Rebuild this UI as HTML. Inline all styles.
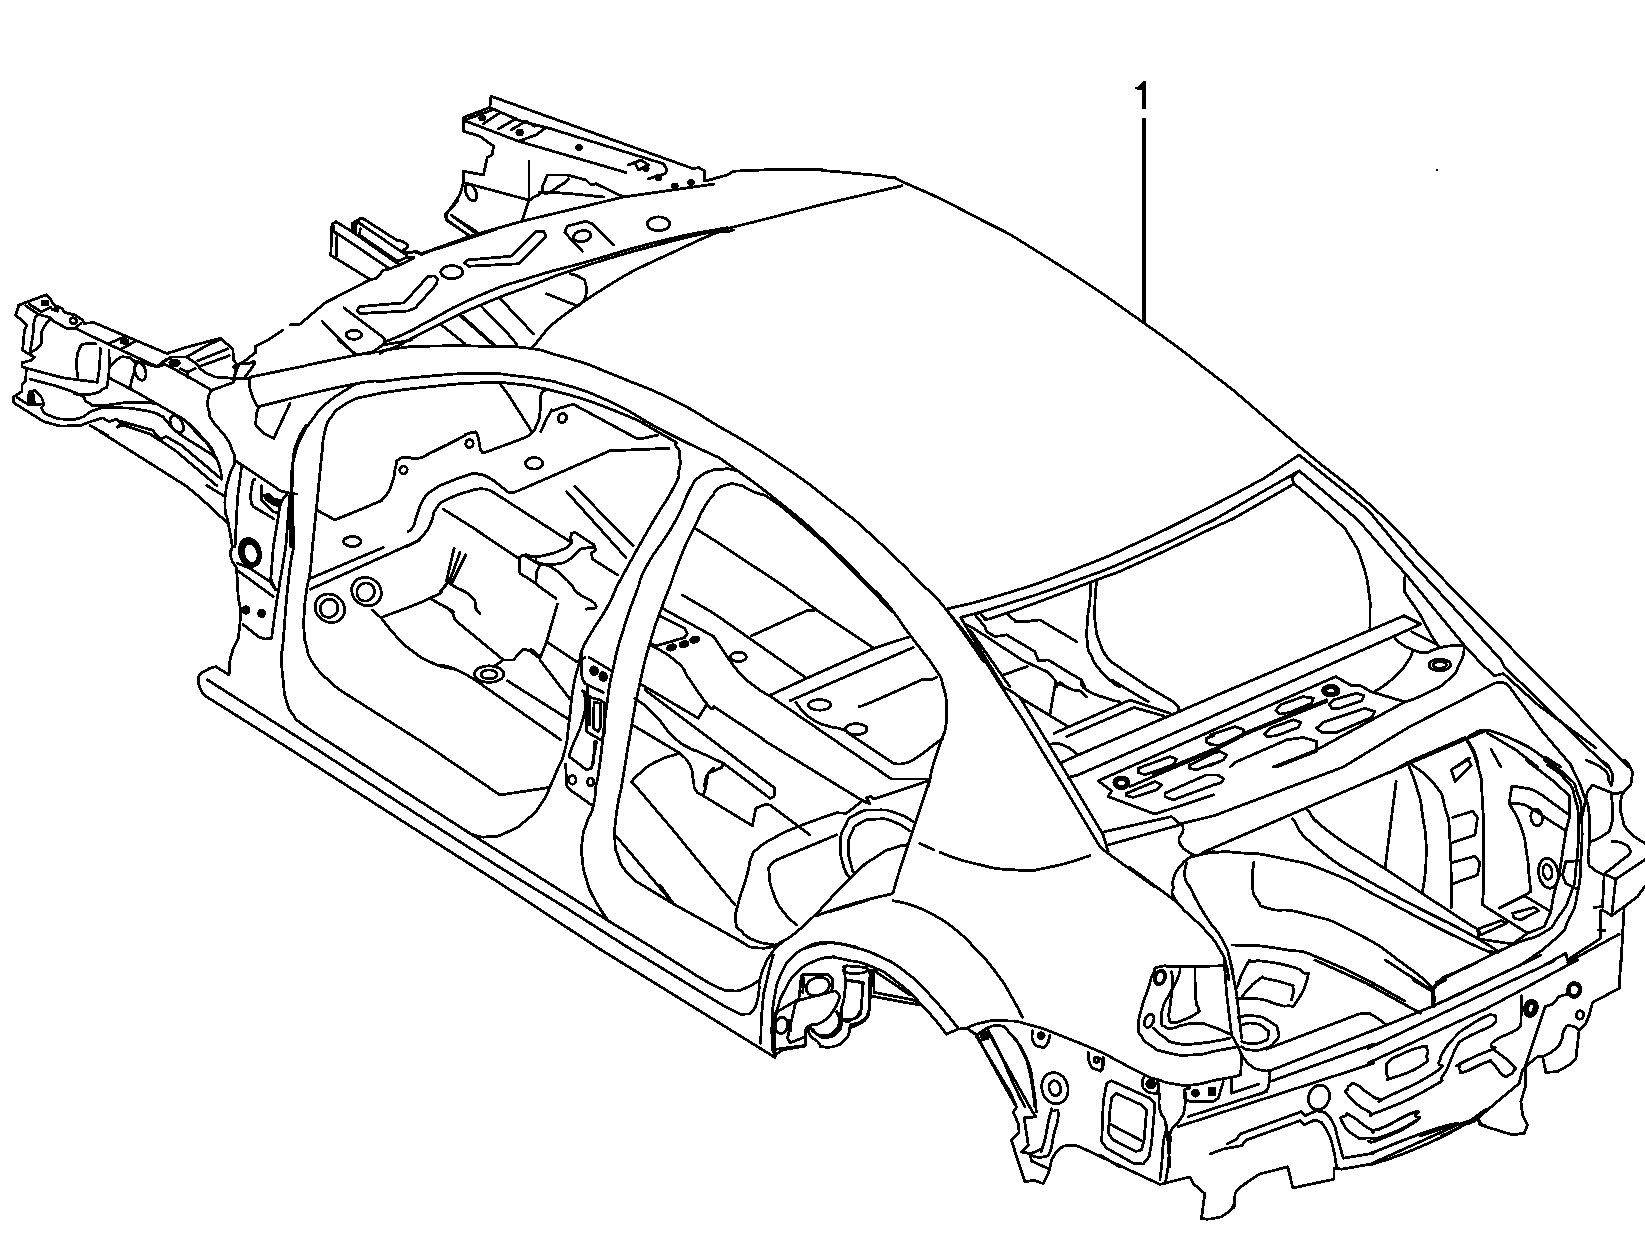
<!DOCTYPE html>
<html><head><meta charset="utf-8"><title>Body shell</title>
<style>html,body{margin:0;padding:0;background:#fff}body{width:1645px;height:1244px;overflow:hidden;font-family:"Liberation Sans",sans-serif}svg{display:block}</style></head><body>
<svg width="1645" height="1244" viewBox="0 0 1645 1244" shape-rendering="crispEdges">
<rect width="1645" height="1244" fill="#fff"/>
<g fill="none" stroke="#000" stroke-width="2.8" stroke-linejoin="round" stroke-linecap="round">
<path d="M18.8 305.1 L15.7 315.1 L27.0 325.1 L24.5 330.2 L22.6 350.2 L28.8 354.0 L34.5 357.1 L31.3 360.3 L21.9 362.8 L21.9 366.5 L26.3 368.4 L25.7 380.3 L21.9 385.3 L21.9 391.6 L13.8 396.6 L13.8 402.9 L43.9 421.7 L60.2 426.1 L80.3 425.5 L90.3 421.7 L102.8 417.9 L109.1 421.7 L116.6 419.2 L120.4 422.9"/>
<path d="M18.8 305.1 L46.4 294.8 L50.2 298.8 L53.9 305.1 L61.4 308.2 L65.2 312.6 L75.2 315.1 L82.8 320.1 L84.0 323.3 L94.0 322.6 L168.0 354.0"/>
<path d="M25.7 305.7 L38.9 314.5 L50.2 317.6 L53.9 321.4 L67.7 328.9 L75.2 328.3 L80.9 323.3"/>
<ellipse cx="73.4" cy="320.8" rx="3.5" ry="3.0" transform="rotate(20.0 73.4 320.8)"/>
<path d="M28.8 303.8 L41.4 312.0 L50.8 307.0"/>
<path d="M42.0 301.3 L47.6 301.3 L47.6 304.5 L42.0 304.5Z" fill="#000"/>
<path d="M52.0 309.5 L57.1 308.2 L57.7 311.3Z" fill="#000"/>
<path d="M38.9 314.5 C37.4 316.4 36.5 313.2 34.5 320.1 C32.5 327.0 34.3 324.7 32.9 335.2 C31.4 345.6 31.0 346.0 30.1 351.5"/>
<path d="M50.2 318.9 C47.9 322.0 46.2 322.4 43.3 328.3 C40.3 334.1 42.3 330.8 41.4 336.4 C40.4 342.1 43.7 340.0 40.4 345.2 C37.0 350.4 34.4 349.8 31.3 352.1"/>
<path d="M75.2 328.3 L107.8 343.9 L156.7 366.5 L168.0 359.0"/>
<path d="M107.8 343.9 L125.4 336.4"/>
<path d="M122.3 348.3 L135.4 341.4"/>
<path d="M122.3 338.9 L127.9 340.2 L126.6 343.9 L121.0 342.7Z" fill="#000"/>
<path d="M95.9 343.9 C92.4 343.9 90.7 342.5 85.3 343.9 C79.8 345.4 82.5 342.5 79.6 348.3 C76.8 354.2 77.4 352.1 76.7 361.5 C76.1 370.9 77.4 371.5 77.7 376.6"/>
<path d="M100.3 348.3 C100.0 354.8 100.4 356.5 99.3 367.8 C98.3 379.1 97.9 377.4 97.2 382.2"/>
<path d="M25.1 367.8 L62.7 377.8 L96.6 382.2"/>
<path d="M109.1 350.2 C108.8 360.3 110.2 367.4 108.1 380.3 C106.0 393.3 107.5 384.7 102.8 389.1 C98.1 393.5 101.1 391.6 94.0 393.5 C86.9 395.4 88.2 394.7 81.5 394.7 C74.8 394.7 76.5 393.9 74.0 393.5"/>
<path d="M30.1 379.1 C44.7 383.4 54.8 384.5 74.0 392.2 C93.2 400.0 79.0 397.9 87.8 402.3 C96.6 406.6 85.7 405.4 100.3 405.4 C114.9 405.4 113.3 402.9 131.7 402.3 C150.1 401.6 147.5 403.1 155.5 403.5"/>
<path d="M110.3 366.5 C112.9 364.0 112.9 362.1 117.9 359.0 C122.9 355.9 120.4 356.7 125.4 357.1 C130.4 357.5 129.8 356.7 132.9 360.3 C136.1 363.8 135.2 361.1 134.8 367.8 C134.4 374.5 133.1 373.6 131.7 380.3 C130.2 387.0 130.8 385.3 130.4 387.8"/>
<ellipse cx="140.4" cy="371.5" rx="5.3" ry="9.0" transform="rotate(-15.0 140.4 371.5)"/>
<path d="M109.1 377.8 L135.4 391.6 L176.7 415.3"/>
<path d="M132.9 360.3 L156.7 366.8"/>
<path d="M28.8 404.1 C28.8 401.2 27.3 399.7 28.6 395.4 C29.8 391.0 29.2 391.4 32.6 391.0 C36.0 390.6 35.3 390.1 38.9 394.1 C42.4 398.1 42.0 397.5 43.3 402.9 C44.5 408.3 39.5 405.8 42.6 410.4 C45.8 415.0 45.1 413.8 52.7 416.7 C60.2 419.6 56.0 418.8 65.2 419.2 C74.4 419.6 70.6 420.9 80.3 417.9 C89.9 415.0 83.2 413.8 94.0 410.4 C104.9 407.1 96.1 407.9 112.9 407.9 C129.6 407.9 127.5 407.5 144.2 410.4 C160.9 413.3 156.7 414.6 163.0 416.7"/>
<path d="M28.6 394.7 L32.9 392.9 L34.5 404.1 L29.1 404.8Z" fill="#000"/>
<path d="M17.6 397.9 L28.8 404.8 L41.4 404.1"/>
<ellipse cx="176.8" cy="424.2" rx="5.6" ry="9.4" transform="rotate(-30.0 176.8 424.2)"/>
<path d="M90.3 425.5 L107.8 435.5"/>
<path d="M117.9 426.1 L125.4 424.2"/>
<path d="M491.0 96.2 L693.5 168.8 L698.5 167.5 L704.8 171.2 L704.8 181.2 L727.2 175.0 L733.5 171.2 L773.5 169.5 L822.0 169.2"/>
<path d="M491.0 96.2 L489.8 107.5 L463.5 117.5 L463.5 131.2 L479.8 136.2 L493.5 146.2 L492.2 155.0 L487.2 157.5 L483.5 175.0 L463.5 171.2 L463.5 182.5 L459.8 195.0 L446.0 215.0 L447.2 220.0 L469.8 236.2"/>
<path d="M489.8 107.5 L521.0 121.2 L546.0 127.5 L551.0 128.8 L663.5 163.8 L667.2 170.0 L664.8 173.8 L648.5 178.8"/>
<path d="M466.0 121.2 L518.5 141.2 L536.0 135.0 L546.0 127.5"/>
<path d="M518.5 141.2 L626.0 172.5"/>
<path d="M464.8 120.0 L492.2 110.0"/>
<path d="M483.5 123.8 L498.5 113.8"/>
<path d="M498.5 128.8 L516.0 118.8"/>
<path d="M511.0 130.0 L526.0 121.2 L534.8 126.2"/>
<ellipse cx="482.2" cy="118.0" rx="2.5" ry="2.0" transform="rotate(0.0 482.2 118.0)" fill="#000"/>
<ellipse cx="519.8" cy="132.5" rx="3.0" ry="2.5" transform="rotate(0.0 519.8 132.5)" fill="#000"/>
<ellipse cx="579.0" cy="147.5" rx="2.5" ry="2.2" transform="rotate(0.0 579.0 147.5)" fill="#000"/>
<path d="M628.5 165.0 L641.0 160.0 L648.5 165.0 L638.5 170.0 L634.8 162.5"/>
<ellipse cx="646.0" cy="168.8" rx="2.2" ry="2.0" transform="rotate(0.0 646.0 168.8)" fill="#000"/>
<ellipse cx="658.5" cy="177.5" rx="2.5" ry="2.0" transform="rotate(0.0 658.5 177.5)" fill="#000"/>
<ellipse cx="674.8" cy="186.2" rx="2.5" ry="2.2" transform="rotate(0.0 674.8 186.2)" fill="#000"/>
<ellipse cx="691.0" cy="182.5" rx="2.5" ry="2.2" transform="rotate(0.0 691.0 182.5)" fill="#000"/>
<path d="M529.0 161.2 L529.0 200.0 L522.2 220.0"/>
<path d="M463.5 182.5 L528.5 200.0"/>
<ellipse cx="471.0" cy="192.5" rx="5.0" ry="8.8" transform="rotate(-25.0 471.0 192.5)"/>
<path d="M451.0 215.0 L474.8 232.5"/>
<path d="M547.2 175.0 L567.2 175.0 L586.0 180.0 L591.0 185.0 L596.0 183.8 L623.5 197.0"/>
<path d="M547.2 175.0 C546.0 180.8 538.9 189.2 543.5 192.5 C548.1 195.8 552.7 189.6 561.0 185.0 C569.3 180.4 566.0 180.8 568.5 178.8"/>
<path d="M528.5 201.2 C531.8 199.2 531.0 197.9 538.5 195.0 C546.0 192.1 529.3 191.8 551.0 192.5 C572.7 193.2 586.0 195.5 603.5 197.0"/>
<path d="M411.0 252.5 L416.0 251.2 L421.0 253.8 L473.5 235.0 L522.2 221.2 L623.5 197.0 L713.5 184.2"/>
<path d="M467.2 260.0 L511.0 256.2 L536.0 231.2 L543.5 231.2 L546.0 236.2 L518.5 263.8 L468.5 266.2 L464.8 263.0Z"/>
<path d="M582.2 251.2 L564.8 232.5 L567.2 226.2 L586.0 221.2 L592.2 223.8 L613.5 245.0"/>
<ellipse cx="582.2" cy="236.2" rx="8.8" ry="5.5" transform="rotate(-10.0 582.2 236.2)"/>
<ellipse cx="658.5" cy="223.8" rx="11.2" ry="7.0" transform="rotate(0.0 658.5 223.8)"/>
<path d="M733.5 230.0 C717.7 235.4 735.2 222.9 686.0 246.2 C636.8 269.6 637.8 265.9 586.0 300.0 C534.2 334.1 549.0 332.3 530.5 348.5"/>
<path d="M822.0 170.5 C834.5 171.6 837.0 171.4 859.5 173.8 C882.0 176.1 873.7 174.2 889.5 177.5 C905.3 180.8 879.5 171.2 907.0 183.8 C934.5 196.2 925.3 190.4 972.0 215.0 C1018.7 239.6 989.9 221.7 1047.0 257.5 C1104.1 293.3 1089.9 285.0 1143.2 322.5 C1196.6 360.0 1185.8 354.2 1207.0 370.0"/>
<path d="M822.0 204.5 L902.0 185.8"/>
<path d="M1233.0 390.0 C1255.5 409.2 1253.8 408.3 1300.5 447.5 C1347.2 486.7 1331.8 470.0 1373.0 507.5 C1414.2 545.0 1407.2 542.5 1424.2 560.0"/>
<path d="M1233.0 495.0 L1265.5 477.5 L1299.2 455.0 L1368.0 510.0 L1409.2 560.0"/>
<path d="M1233.0 508.8 L1265.5 490.0 L1299.2 470.8 L1358.0 520.0 L1392.8 560.0"/>
<path d="M1233.0 518.8 L1294.2 483.8 L1291.8 477.5 L1299.2 470.8"/>
<path d="M1294.2 483.8 C1307.2 495.0 1314.2 499.6 1333.0 517.5 C1351.8 535.4 1340.5 521.7 1350.5 537.5 C1360.5 553.3 1356.8 545.8 1363.0 565.0 C1369.2 584.2 1366.9 580.0 1369.2 595.0 C1371.6 610.0 1369.8 605.0 1370.0 610.0"/>
<path d="M167.7 353.2 L187.8 346.9 L220.4 338.2 L224.1 341.3 L232.9 349.4 L233.5 360.1 L236.7 363.9 L234.8 375.1 L232.9 382.7"/>
<path d="M186.5 357.0 L207.8 345.0 L220.4 339.4"/>
<path d="M170.2 357.0 L180.3 357.0 L186.5 357.0 L196.6 363.9 L200.3 368.9 L206.6 373.3 L215.4 377.0 L232.9 378.3 L249.2 378.3"/>
<path d="M156.4 367.0 L165.2 360.1 L170.2 358.2"/>
<path d="M156.4 367.0 L165.2 364.5 L187.8 376.4 L211.6 390.2"/>
<ellipse cx="174.6" cy="362.9" rx="4.8" ry="2.8" transform="rotate(0.0 174.6 362.9)"/>
<ellipse cx="174.6" cy="362.9" rx="2.8" ry="1.5" transform="rotate(0.0 174.6 362.9)" fill="#000"/>
<path d="M180.3 368.9 L187.8 372.0 L195.3 368.2"/>
<path d="M187.8 372.0 L187.8 377.6"/>
<path d="M197.8 360.7 L227.9 348.8"/>
<path d="M201.6 365.7 L229.2 355.7"/>
<path d="M234.8 375.1 L239.2 363.9 L249.8 363.2 L254.2 361.3 L254.2 364.5 L244.2 378.3"/>
<path d="M233.5 367.0 L235.4 365.1 L237.3 367.0 L235.4 369.1Z"/>
<path d="M283.1 330.0 L266.8 340.7 L255.5 346.3 L255.5 352.6 L244.2 361.3 L239.2 363.9"/>
<path d="M306.0 365.7 L250.5 377.0"/>
<path d="M250.5 377.0 C250.3 380.6 248.2 379.1 249.8 387.7 C251.5 396.2 252.4 396.5 255.5 402.7 C258.6 409.0 258.0 405.2 259.2 406.5"/>
<path d="M259.2 406.5 L306.0 394.6"/>
<path d="M259.2 406.5 C258.2 410.3 256.1 410.3 256.1 417.8 C256.1 425.3 253.4 422.2 259.2 429.1 C265.1 436.0 268.9 435.3 273.7 438.5"/>
<path d="M273.7 438.5 L290.0 403.4"/>
<path d="M211.6 390.2 L232.9 382.7 L235.4 378.9"/>
<path d="M211.6 390.2 C210.3 393.5 208.7 393.1 207.8 400.2 C207.0 407.3 207.4 404.4 209.1 411.5 C210.8 418.6 207.4 413.2 212.9 421.5 C218.3 429.9 219.1 427.4 225.4 436.6 C231.7 445.8 228.5 441.2 231.7 449.1 C234.8 457.1 235.2 452.5 234.8 460.4 C234.4 468.3 233.1 464.6 230.4 472.9 C227.7 481.3 227.9 481.3 226.6 485.5"/>
<path d="M234.8 460.4 L273.0 485.5"/>
<path d="M241.7 465.4 L239.2 485.5"/>
<path d="M306.0 425.3 C303.0 431.1 301.2 430.7 296.9 442.9 C292.6 455.0 294.6 447.5 293.1 461.7 C291.6 475.9 292.7 477.5 292.5 485.5"/>
<path d="M176.7 415.3 C180.4 417.8 179.9 416.1 187.8 422.8 C195.6 429.5 192.4 426.1 200.3 435.3 C208.3 444.5 205.3 440.3 211.6 450.4 C217.9 460.4 215.8 455.8 219.1 465.4 C222.5 475.0 220.8 474.6 221.6 479.2"/>
<path d="M162.9 416.6 C165.4 419.5 164.0 419.1 170.2 425.3 C176.4 431.5 173.1 429.1 181.5 435.3 C189.9 441.6 184.8 437.4 195.3 444.1 C205.7 450.8 206.2 450.8 212.9 455.4 C219.5 460.0 214.5 457.1 215.4 457.9"/>
<path d="M187.8 423.4 C192.0 427.8 192.8 428.9 200.3 436.6 C207.8 444.3 205.7 440.3 210.3 446.6 C214.9 452.9 212.9 452.5 214.1 455.4"/>
<path d="M121.3 421.5 L152.7 430.3 L157.7 436.6 L160.2 439.1 L166.5 436.6 L181.5 445.4 L221.6 479.2"/>
<path d="M117.6 427.2 L122.6 425.0 L150.2 434.1 L175.2 450.4 L216.6 485.5"/>
<path d="M100.0 431.6 L185.3 485.5"/>
<path d="M387.5 341.0 C395.3 337.6 396.8 337.7 411.0 330.8 C425.2 323.9 407.1 332.2 430.2 320.3 C453.3 308.4 446.9 309.4 480.3 295.2 C513.7 281.0 495.3 288.7 530.5 277.6 C565.7 266.5 542.5 274.2 586.0 262.0 C629.5 249.8 616.3 252.0 661.0 241.0 C705.7 230.0 695.8 233.7 720.0 229.0 C744.2 224.3 699.5 235.2 733.5 227.0 C767.5 218.8 792.5 212.0 822.0 204.5"/>
<path d="M380.0 351.6 C385.4 349.9 386.0 350.9 396.3 346.6 C406.6 342.3 396.4 346.3 411.0 338.8 C425.6 331.3 417.1 335.2 440.2 324.0 C463.3 312.8 450.2 317.9 480.3 305.2 C510.4 292.5 495.3 299.0 530.5 285.8 C565.7 272.6 542.5 279.6 586.0 265.7 C629.5 251.8 616.3 255.9 661.0 244.0 C705.7 232.1 700.3 234.7 720.0 230.0"/>
<path d="M380.0 353.5 C385.4 351.8 377.5 351.0 396.3 348.5 C415.1 346.0 404.2 346.6 436.4 346.0 C468.6 345.3 461.5 345.7 492.9 346.6 C524.2 347.4 509.6 345.7 530.5 348.5 C551.4 351.2 537.0 349.7 555.5 354.7 C574.1 359.7 575.9 360.6 586.0 363.5"/>
<path d="M440.2 324.0 L465.3 344.1"/>
<path d="M459.6 315.2 L492.9 344.7"/>
<path d="M462.8 316.5 L494.1 344.7"/>
<path d="M480.3 305.2 C490.3 315.7 498.5 322.8 510.4 336.6 C522.3 350.3 514.2 343.2 516.1 346.6"/>
<path d="M500.4 298.9 L533.6 334.0"/>
<path d="M570.6 273.9 C573.9 275.1 575.6 274.3 580.6 277.6 C585.6 281.0 584.0 277.6 585.6 283.9 C587.3 290.2 587.3 289.7 585.6 296.4 C584.0 303.1 584.0 300.4 580.6 303.9 C577.3 307.5 577.3 306.0 575.6 307.1"/>
<path d="M546.8 293.9 L575.6 305.2"/>
<path d="M380.0 381.7 C396.7 379.8 396.7 378.8 430.2 376.1 C463.6 373.3 451.1 373.5 480.3 373.5 C509.6 373.5 492.9 373.3 517.9 376.1 C543.0 378.8 543.0 379.8 555.5 381.7"/>
<path d="M380.0 393.0 C396.7 390.9 396.7 390.1 430.2 386.7 C463.6 383.4 451.1 383.8 480.3 382.9 C509.6 382.1 497.0 382.3 517.9 384.2 C538.8 386.1 534.6 387.1 543.0 388.6"/>
<path d="M500.4 384.2 L509.2 396.0"/>
<path d="M546.8 389.2 L541.8 392.4 L540.5 396.0"/>
<path d="M335.8 221.6 L332.0 224.5 L330.8 255.2 L370.3 279.6 L376.5 278.4 L383.4 270.2 L389.1 269.0 L399.1 265.2 L413.5 258.3"/>
<path d="M335.8 221.6 L352.7 232.0"/>
<path d="M333.9 231.3 L389.1 268.3"/>
<path d="M337.0 234.5 L336.4 255.8"/>
<path d="M333.9 226.3 L333.3 231.3 L337.0 234.5"/>
<path d="M352.7 232.0 L352.7 223.2 L360.2 218.6 L363.4 218.8 L396.6 240.1 L402.9 241.4 L407.9 245.1 L407.2 247.6 L402.9 250.2 L407.2 252.7 L414.1 251.7 L421.7 254.5 L429.2 251.4 L471.8 237.6 L496.0 229.5"/>
<path d="M355.8 232.6 L355.2 225.1 L358.7 222.6 L406.6 255.2"/>
<path d="M352.7 232.0 L399.1 264.6"/>
<path d="M360.2 228.8 L359.6 235.1 L397.8 261.4 L406.6 257.1 L414.1 257.7"/>
<path d="M370.3 279.6 L325.1 302.8 L300.0 324.1 L290.0 324.8"/>
<path d="M458.0 200.0 L454.3 205.0 L445.5 213.8 L446.1 220.1 L470.6 236.4"/>
<path d="M451.1 215.0 L476.8 232.0"/>
<path d="M359.6 306.6 L404.1 302.8 L427.9 276.5 L434.2 275.9 L437.3 279.0 L436.7 284.0 L415.4 307.8 L407.9 311.0 L360.2 313.5 L357.1 310.3Z"/>
<ellipse cx="451.8" cy="272.1" rx="11.0" ry="6.5" transform="rotate(0.0 451.8 272.1)"/>
<path d="M343.9 307.8 L384.0 337.9 L385.3 342.9"/>
<path d="M322.0 321.0 L355.2 354.9 L371.5 353.0 L385.3 342.9"/>
<ellipse cx="353.9" cy="334.8" rx="7.8" ry="4.5" transform="rotate(0.0 353.9 334.8)"/>
<path d="M305.9 365.3 C322.8 361.9 334.7 359.3 356.6 355.0 C378.4 350.7 363.7 353.5 371.6 352.5 C379.4 351.5 377.2 352.2 380.0 352.0"/>
<path d="M338.2 340.0 L356.6 355.0"/>
<path d="M371.6 352.5 L383.2 345.0 L411.5 340.0"/>
<path d="M305.9 394.6 C322.8 391.0 331.9 388.1 356.6 383.6 C381.3 379.1 372.2 382.0 380.0 381.1"/>
<path d="M356.6 398.3 L380.0 393.3"/>
<path d="M356.6 383.6 C354.3 384.9 359.9 380.9 349.9 387.5 C339.9 394.0 338.8 393.0 326.6 403.3 C314.4 413.6 321.6 407.2 313.3 418.3 C304.9 429.4 307.7 424.4 301.6 436.6 C295.5 448.8 298.3 442.7 294.9 454.9 C291.6 467.1 292.8 460.5 291.6 473.2 C290.4 486.0 291.4 486.6 291.3 493.2"/>
<path d="M289.9 494.1 L292.4 494.1 L293.6 547.0 L290.8 547.0Z" fill="#000"/>
<path d="M356.6 398.3 C351.6 401.1 349.9 400.5 341.6 406.6 C333.2 412.7 337.1 408.3 331.6 416.6 C326.0 424.9 328.2 418.3 324.9 431.6 C321.6 444.9 323.8 437.2 321.6 456.6 C319.4 476.0 320.5 467.7 318.3 489.9 C316.0 512.1 316.9 504.2 314.9 523.2 C313.0 542.3 313.3 539.1 312.4 547.0"/>
<path d="M316.6 509.9 L334.9 519.9"/>
<path d="M334.9 519.9 C347.7 514.6 357.1 511.3 373.2 504.1 C389.3 496.8 377.1 504.6 383.2 498.2 C389.3 491.8 387.4 495.5 391.5 484.9 C395.7 474.4 393.5 474.9 395.7 466.6 C397.9 458.3 394.6 463.0 398.2 459.9 C401.8 456.9 399.9 458.0 406.5 457.4 C413.2 456.9 409.3 460.2 418.2 458.3 C427.1 456.3 419.3 458.3 433.2 451.6 C447.1 444.9 448.7 444.1 459.8 438.3 C470.9 432.4 461.9 436.0 466.5 434.1 C471.1 432.2 471.3 433.0 473.7 432.4"/>
<ellipse cx="403.5" cy="469.9" rx="3.7" ry="4.0" transform="rotate(20.0 403.5 469.9)"/>
<ellipse cx="469.5" cy="443.6" rx="3.7" ry="4.0" transform="rotate(20.0 469.5 443.6)"/>
<path d="M473.7 473.2 C465.7 476.0 463.3 476.0 449.8 481.6 C436.3 487.1 442.1 483.8 433.2 489.9 C424.3 496.0 428.7 491.0 423.2 499.9 C417.6 508.8 419.9 507.7 416.5 516.5 C413.2 525.4 416.0 521.5 413.2 526.5 C410.4 531.5 409.9 529.9 408.2 531.5"/>
<path d="M473.7 489.9 C465.7 492.7 462.2 492.1 449.8 498.2 C437.5 504.3 442.6 500.4 436.5 508.2 C430.4 516.0 435.4 513.2 431.5 521.5 C427.6 529.9 430.4 526.3 424.9 533.2 C419.3 540.1 421.5 537.8 414.9 542.4 C408.2 547.0 408.2 545.5 404.9 547.0"/>
<path d="M443.2 509.1 L473.7 528.2"/>
<ellipse cx="352.4" cy="541.5" rx="8.7" ry="5.0" transform="rotate(0.0 352.4 541.5)"/>
<path d="M273.0 485.4 L279.9 490.7 L289.9 493.2 L296.6 494.1"/>
<path d="M255.0 479.1 C254.1 480.5 253.9 476.9 252.5 483.2 C251.1 489.6 250.5 490.5 250.8 498.2 C251.1 506.0 252.5 503.8 253.3 506.6"/>
<path d="M253.3 506.6 L274.1 519.0"/>
<path d="M261.6 485.7 L261.6 499.9 L273.3 511.6 L278.3 513.2"/>
<path d="M264.1 495.7 L268.3 494.1 L273.3 499.1 L281.6 500.7 L279.9 506.6 L273.3 504.1 L266.6 499.9Z" fill="#000"/>
<path d="M281.6 500.7 L286.6 494.9"/>
<path d="M279.9 506.6 L273.3 547.0"/>
<path d="M289.9 494.9 L285.8 547.0"/>
<path d="M226.6 485.4 C226.1 492.5 224.4 494.0 225.0 506.6 C225.5 519.2 225.8 509.7 228.3 523.2 C230.8 536.7 231.1 539.1 232.5 547.0"/>
<path d="M239.1 485.4 L237.5 498.2 L235.0 547.0"/>
<path d="M206.7 485.4 L225.0 496.6"/>
<path d="M185.3 485.4 L200.0 497.4 L225.0 520.7 L227.5 523.2"/>
<path d="M232.5 547.0 C231.9 550.2 229.4 549.5 230.8 556.7 C232.2 563.8 234.7 564.4 236.6 568.3"/>
<path d="M236.6 568.3 L238.3 598.3 L240.8 610.0 L240.0 623.3 L238.3 638.3 L233.3 648.3 L230.0 659.9 L229.1 674.9 L215.8 666.6 L210.0 668.2 L200.8 673.2"/>
<path d="M200.8 673.2 C200.0 675.5 198.3 674.4 198.3 679.9 C198.3 685.5 198.6 684.6 200.8 689.9 C203.0 695.2 203.6 693.8 205.0 695.7"/>
<path d="M205.0 695.7 L286.6 747.0"/>
<ellipse cx="250.0" cy="552.5" rx="10.3" ry="14.2" transform="rotate(-15.0 250.0 552.5)"/>
<ellipse cx="250.8" cy="553.3" rx="7.0" ry="10.3" transform="rotate(-15.0 250.8 553.3)"/>
<ellipse cx="250.5" cy="553.0" rx="8.7" ry="12.3" transform="rotate(-15.0 250.5 553.0)"/>
<path d="M237.5 563.3 L250.0 568.3 L269.9 581.6 L275.8 590.0"/>
<path d="M239.1 571.6 L273.3 596.6"/>
<path d="M273.3 547.0 L270.8 579.1 L275.8 590.0 L278.3 590.0"/>
<path d="M285.8 547.0 L279.9 581.6 L278.3 591.6 L274.9 613.3 L271.6 638.3 L264.9 639.1 L258.3 636.6 L243.3 624.6"/>
<path d="M293.6 547.0 C291.8 558.5 291.7 550.7 288.3 581.6 C284.8 612.6 285.5 615.0 283.3 639.9 C281.0 664.9 281.6 642.7 281.6 656.6 C281.6 670.5 281.6 666.6 283.3 681.6 C284.9 696.6 283.3 690.5 286.6 701.6 C289.9 712.7 287.7 707.1 293.3 714.9 C298.8 722.7 288.8 714.2 303.3 724.9 C317.7 735.6 325.5 739.6 336.6 747.0"/>
<path d="M312.4 547.0 C311.6 555.8 311.9 559.0 309.9 573.3 C308.0 587.6 308.5 576.1 306.6 590.0 C304.6 603.8 304.9 601.1 304.1 615.0 C303.3 628.8 303.3 621.1 304.1 631.6 C304.9 642.2 303.5 636.0 306.6 646.6 C309.6 657.1 305.5 651.6 313.2 663.3 C321.0 674.9 319.4 671.6 329.9 681.6 C340.4 691.6 339.9 689.3 344.9 693.2"/>
<path d="M344.9 693.2 L429.8 747.0"/>
<ellipse cx="245.8" cy="610.0" rx="3.3" ry="3.3" transform="rotate(0.0 245.8 610.0)" fill="#000"/>
<ellipse cx="261.6" cy="613.3" rx="3.0" ry="3.3" transform="rotate(0.0 261.6 613.3)" fill="#000"/>
<path d="M207.5 679.9 L313.2 747.0"/>
<path d="M310.7 578.3 L383.2 547.5"/>
<path d="M310.7 589.1 L419.8 540.0"/>
<ellipse cx="329.9" cy="608.3" rx="15.3" ry="13.7" transform="rotate(35.0 329.9 608.3)"/>
<ellipse cx="329.1" cy="608.3" rx="8.7" ry="9.2" transform="rotate(35.0 329.1 608.3)"/>
<ellipse cx="366.5" cy="591.6" rx="15.3" ry="13.7" transform="rotate(35.0 366.5 591.6)"/>
<ellipse cx="365.7" cy="592.0" rx="8.7" ry="9.2" transform="rotate(35.0 365.7 592.0)"/>
<path d="M372.4 610.0 L381.5 618.3"/>
<path d="M381.5 618.3 C386.5 624.4 386.0 625.5 396.5 636.6 C407.1 647.7 401.0 642.7 413.2 651.6 C425.4 660.5 419.7 657.4 433.2 663.3 C446.7 669.1 446.8 667.1 453.7 669.1"/>
<path d="M381.5 617.4 C397.6 611.1 409.3 608.0 429.8 598.3 C450.4 588.6 436.5 595.0 443.2 588.3 C449.8 581.6 447.6 581.6 449.8 578.3"/>
<path d="M429.8 598.3 L453.7 611.6"/>
<path d="M626.5 380.0 C642.1 386.7 644.1 385.6 673.2 400.0 C702.2 414.4 700.2 415.5 713.7 423.3"/>
<path d="M555.4 382.0 C572.5 388.0 570.6 383.7 606.6 400.0 C642.5 416.3 627.5 412.4 663.2 430.8 C698.9 449.2 696.8 447.1 713.7 455.3"/>
<path d="M542.9 388.0 C564.1 394.5 566.5 391.8 606.6 407.5 C646.6 423.1 639.9 421.9 663.2 435.0 C686.5 448.0 671.0 438.8 676.5 446.6 C682.1 454.4 679.0 450.5 679.8 458.3 C680.7 466.1 681.2 459.9 679.0 469.9 C676.8 479.9 683.4 468.3 673.2 488.3 C662.9 508.2 667.1 497.0 648.2 529.9 C629.3 562.8 627.1 568.0 616.5 587.0"/>
<path d="M509.1 396.0 L530.8 430.0 L531.6 433.3"/>
<path d="M540.4 396.0 C540.3 401.8 541.2 403.7 539.9 413.3 C538.7 423.0 539.4 418.3 536.6 425.0 C533.8 431.6 536.0 428.9 531.6 433.3 C527.2 437.7 526.1 436.6 523.3 438.3"/>
<path d="M523.3 438.3 L485.0 452.5"/>
<path d="M485.0 452.5 C483.6 451.6 483.3 455.8 480.8 450.0 C478.3 444.1 479.9 440.8 477.5 435.0 C475.1 429.1 474.9 433.3 473.6 432.5"/>
<ellipse cx="562.4" cy="418.0" rx="4.0" ry="4.7" transform="rotate(30.0 562.4 418.0)"/>
<path d="M540.8 431.6 C543.8 425.5 545.2 420.5 549.9 413.3 C554.6 406.1 547.2 413.0 554.9 410.0 C562.7 406.9 567.1 406.1 573.2 404.2"/>
<path d="M573.2 404.2 L636.5 438.3 L643.2 438.3 L658.2 435.0"/>
<ellipse cx="534.1" cy="463.3" rx="8.7" ry="5.8" transform="rotate(0.0 534.1 463.3)"/>
<path d="M473.6 474.1 C475.2 474.1 472.9 472.7 478.3 474.1 C483.7 475.5 481.6 473.5 490.0 478.3 C498.3 483.0 496.6 483.5 503.3 488.3 C510.0 493.0 505.0 491.6 510.0 492.4 C515.0 493.3 515.5 491.3 518.3 490.8"/>
<path d="M518.3 490.8 L609.9 450.8 L669.0 448.3"/>
<path d="M473.6 489.9 C477.4 489.6 477.9 488.0 485.0 489.1 C492.1 490.2 491.6 491.9 495.0 493.3"/>
<path d="M495.0 493.3 L569.9 541.6"/>
<path d="M473.6 528.2 L518.3 558.2"/>
<path d="M566.6 491.6 L625.7 557.4"/>
<path d="M574.9 486.6 L633.2 545.7"/>
<path d="M569.9 541.6 L571.6 533.2 L574.9 532.4 L594.1 544.9 L595.7 549.9 L591.6 553.2 L592.4 559.0 L617.4 574.9"/>
<path d="M518.3 558.2 C520.5 557.1 519.9 555.4 524.9 554.9 C529.9 554.3 526.1 556.5 533.3 556.5 C540.5 556.5 537.2 557.1 546.6 554.9 C556.0 552.7 553.8 553.2 561.6 549.9 C569.4 546.6 566.6 548.2 569.9 544.9 C573.2 541.6 571.0 541.6 571.6 539.9"/>
<path d="M535.8 559.0 C537.2 560.4 533.0 561.5 539.9 563.2 C546.9 564.9 546.6 565.4 556.6 564.0 C566.6 562.7 562.1 563.8 569.9 559.0 C577.7 554.3 574.9 553.5 579.9 549.9 C584.9 546.3 579.9 549.1 584.9 548.2 C589.9 547.4 591.6 547.7 594.9 547.4"/>
<path d="M519.1 558.2 L519.9 573.2 L536.6 584.0 L539.9 587.0"/>
<path d="M524.9 555.7 L539.9 564.9 L536.6 571.5 L535.8 584.0"/>
<path d="M539.9 564.9 C543.3 565.4 542.2 562.7 549.9 566.5 C557.7 570.4 555.5 569.7 563.3 576.5 C571.0 583.4 569.9 583.5 573.2 587.0"/>
<path d="M454.2 548.2 L446.7 579.9 L451.7 583.2 L465.8 554.9"/>
<path d="M460.0 552.4 L450.0 579.9"/>
<path d="M713.7 469.9 C709.0 472.2 707.8 469.9 699.8 476.6 C691.9 483.3 698.7 473.8 689.8 489.9 C681.0 506.0 687.1 500.5 673.2 524.9 C659.3 549.3 659.9 542.5 648.2 563.2 C636.5 583.9 641.5 579.1 638.2 587.0"/>
<path d="M713.7 494.9 C710.7 498.8 711.1 496.0 704.8 506.6 C698.5 517.1 702.6 510.5 694.8 526.6 C687.1 542.7 689.8 534.7 681.5 554.9 C673.2 575.0 673.7 576.3 669.8 587.0"/>
<path d="M694.8 528.2 L713.7 539.9"/>
<path d="M616.5 587.0 C613.2 594.1 615.4 592.3 606.6 608.3 C597.7 624.3 598.2 620.5 589.9 635.0 C581.6 649.4 585.2 642.2 581.6 651.6 C578.0 661.1 581.8 651.1 579.1 663.3 C576.3 675.5 576.6 668.8 573.2 688.3 C569.9 707.7 571.9 701.0 569.1 721.6 C566.3 742.1 569.1 733.2 564.9 749.9 C560.8 766.5 561.6 759.2 556.6 771.5 C551.6 783.9 552.1 781.9 549.9 787.0"/>
<path d="M638.2 587.0 C633.2 601.3 631.5 602.9 623.2 630.0 C614.9 657.1 618.8 642.7 613.2 668.3 C607.7 693.8 611.0 674.9 606.6 706.6 C602.1 738.2 603.5 736.4 599.9 763.2 C596.3 790.0 597.1 779.1 595.7 787.0"/>
<path d="M669.8 587.0 C667.1 594.1 668.2 589.5 661.5 608.3 C654.9 627.1 657.1 618.3 649.9 643.3 C642.6 668.3 646.0 655.5 639.9 683.3 C633.8 711.0 637.6 692.0 631.5 726.6 C625.4 761.2 624.9 766.9 621.5 787.0"/>
<path d="M445.8 580.0 C448.3 581.9 444.7 580.3 453.3 585.8 C461.9 591.4 464.2 589.2 471.6 596.7 C479.1 604.2 473.0 602.8 475.8 608.3 C478.6 613.9 478.6 611.6 480.0 613.3"/>
<path d="M450.0 580.0 L440.0 591.7"/>
<path d="M440.0 604.2 C443.3 606.1 445.0 604.7 450.0 610.0 C455.0 615.3 453.3 616.6 455.0 620.0"/>
<path d="M455.0 620.0 L503.3 659.9 L513.3 659.9 L523.3 649.1 L529.9 650.8 L539.9 658.3 L546.6 641.6 L557.4 604.2"/>
<path d="M529.9 650.8 L539.9 658.3 L539.1 655.8 L530.8 649.1Z" fill="#000"/>
<path d="M539.9 587.0 L555.8 598.3"/>
<path d="M573.2 587.0 C574.9 589.1 570.7 587.3 578.2 593.3 C585.7 599.3 593.0 599.7 595.7 605.0 C598.5 610.3 589.6 607.8 586.6 609.1"/>
<path d="M546.6 641.6 L576.6 661.6 L584.9 657.4"/>
<path d="M539.9 659.9 L569.9 699.1"/>
<ellipse cx="489.1" cy="674.1" rx="14.7" ry="8.3" transform="rotate(0.0 489.1 674.1)"/>
<ellipse cx="489.1" cy="674.4" rx="8.0" ry="4.5" transform="rotate(0.0 489.1 674.4)"/>
<path d="M503.3 659.9 L495.0 665.8"/>
<path d="M440.0 664.9 C445.6 666.6 445.0 664.9 456.7 669.9 C468.3 674.9 468.9 676.6 475.0 679.9"/>
<path d="M475.0 679.9 L560.8 739.9"/>
<path d="M507.5 680.8 L568.2 719.1"/>
<path d="M429.7 747.1 L488.3 787.0"/>
<path d="M581.6 651.6 C581.6 658.8 580.5 662.7 581.6 673.3 C582.7 683.8 583.8 679.9 584.9 683.3"/>
<path d="M584.9 683.3 L603.2 692.4"/>
<path d="M589.1 657.4 L611.6 670.8"/>
<ellipse cx="594.1" cy="670.8" rx="3.3" ry="4.0" transform="rotate(-20.0 594.1 670.8)" fill="#000"/>
<ellipse cx="603.2" cy="676.6" rx="3.3" ry="4.0" transform="rotate(-20.0 603.2 676.6)" fill="#000"/>
<path d="M582.4 690.8 C583.2 692.7 584.6 687.4 584.9 696.6 C585.2 705.7 587.7 701.0 583.2 718.2 C578.8 735.5 576.3 735.5 571.6 748.2 C566.9 761.0 569.9 753.8 569.1 756.5"/>
<path d="M569.1 756.5 L586.6 769.9 L591.6 768.2 L596.6 741.6"/>
<path d="M587.4 686.6 L586.6 731.6 L600.7 739.9 L604.1 734.9 L604.9 703.3 L599.9 699.9 L589.9 697.4"/>
<path d="M594.1 702.4 L593.2 728.2 L598.2 731.6 L600.7 726.6 L600.7 703.3Z"/>
<path d="M588.6 696.6 L589.9 696.6 L589.9 724.9 L588.6 724.9Z" fill="#000"/>
<path d="M594.9 741.6 L593.2 763.2"/>
<path d="M565.7 764.0 L566.6 784.9"/>
<ellipse cx="572.4" cy="779.9" rx="3.7" ry="4.3" transform="rotate(0.0 572.4 779.9)"/>
<ellipse cx="590.7" cy="781.9" rx="3.3" ry="4.0" transform="rotate(0.0 590.7 781.9)"/>
<path d="M682.3 595.0 L713.7 613.3"/>
<path d="M662.4 608.3 L713.7 636.6"/>
<path d="M659.9 615.8 L684.8 628.3 L687.3 633.3 L684.8 637.5 L656.5 645.8 L651.5 644.1"/>
<ellipse cx="671.5" cy="647.5" rx="4.2" ry="2.5" transform="rotate(-15.0 671.5 647.5)" fill="#000"/>
<ellipse cx="684.0" cy="644.1" rx="4.2" ry="2.5" transform="rotate(-15.0 684.0 644.1)" fill="#000"/>
<ellipse cx="694.8" cy="639.6" rx="4.2" ry="2.5" transform="rotate(-15.0 694.8 639.6)" fill="#000"/>
<path d="M650.7 645.0 C659.3 650.5 663.5 650.0 676.5 661.6 C689.6 673.3 679.8 666.1 689.8 679.9 C699.8 693.8 698.5 693.8 706.5 703.3 C714.4 712.7 711.3 706.6 713.7 708.2"/>
<path d="M640.7 684.1 L698.2 718.2 L706.5 704.9"/>
<path d="M644.9 689.9 L713.7 741.6"/>
<path d="M634.9 698.3 C641.0 703.3 640.4 700.5 653.2 713.2 C666.0 726.0 661.0 724.9 673.2 736.6 C685.4 748.2 681.5 743.2 689.8 748.2 C698.2 753.3 687.2 746.7 698.3 751.7 C709.5 756.7 715.0 759.4 723.3 763.2"/>
<path d="M632.4 724.9 L679.8 753.2"/>
<path d="M679.8 753.2 C683.2 757.1 685.4 756.0 689.8 764.9 C694.3 773.8 691.8 772.5 693.2 779.9 C694.6 787.3 693.7 784.6 694.0 787.0"/>
<path d="M679.8 753.2 C672.1 756.0 669.8 754.9 656.5 761.5 C643.2 768.2 648.2 766.3 639.9 773.2 C631.5 780.1 634.3 779.3 631.5 782.4"/>
<path d="M631.5 782.4 L636.5 787.0"/>
<path d="M713.7 768.2 C711.3 771.0 709.4 770.3 706.5 776.5 C703.5 782.8 705.4 783.5 704.8 787.0"/>
<path d="M286.6 747.0 L400.0 819.6 L499.9 883.2 L596.5 947.0"/>
<path d="M313.2 747.0 L400.0 803.3 L499.9 867.4 L566.6 908.2 L627.3 947.0"/>
<path d="M336.7 747.0 L400.0 788.3 L463.3 829.1 L608.2 920.7 L651.5 947.0"/>
<path d="M488.3 787.0 L499.9 795.0 L549.1 787.5"/>
<path d="M549.9 787.0 C547.1 792.4 549.3 792.3 541.6 803.3 C533.8 814.3 538.2 810.2 526.6 819.9 C514.9 829.7 518.8 826.9 506.6 832.4 C494.4 838.0 500.5 835.7 489.9 836.6 C479.4 837.5 483.8 837.8 475.0 835.3 C466.1 832.8 467.2 831.2 463.3 829.1"/>
<path d="M566.6 785.3 L569.1 789.1 L591.5 805.0"/>
<path d="M595.7 787.5 C594.9 793.9 596.3 794.7 593.2 806.6 C590.2 818.6 590.2 812.2 586.5 823.3 C582.9 834.4 583.8 827.7 582.4 839.9 C581.0 852.1 581.0 846.6 582.4 859.9 C583.8 873.2 582.4 866.6 586.5 879.9 C590.7 893.2 587.7 886.3 594.9 899.9 C602.1 913.5 603.8 913.8 608.2 920.7"/>
<path d="M621.5 787.0 C619.9 795.7 618.7 795.6 616.5 813.3 C614.3 830.9 614.3 825.5 614.9 839.9 C615.4 854.4 614.9 846.6 618.2 856.6 C621.5 866.6 618.7 861.6 624.9 869.9 C631.0 878.2 632.6 877.7 636.5 881.6"/>
<path d="M636.5 881.6 L673.7 904.1"/>
<path d="M636.5 787.0 L673.7 830.8"/>
<path d="M616.5 836.6 L673.7 904.1"/>
<path d="M694.0 787.0 C694.9 788.5 694.6 789.2 696.6 791.6 C698.6 794.0 697.8 792.7 700.0 794.1 C702.2 795.5 702.2 795.2 703.3 795.8"/>
<path d="M703.3 795.8 L752.4 825.8 L755.8 808.3"/>
<path d="M755.8 808.3 C758.3 807.3 759.1 806.5 763.3 805.3 C767.4 804.1 764.9 803.9 768.3 804.6 C771.6 805.3 771.6 806.5 773.3 807.5"/>
<path d="M773.3 807.5 L809.9 834.9"/>
<path d="M723.3 763.3 L769.9 798.3 L774.1 796.6 L774.9 788.3 L713.6 741.5"/>
<path d="M723.3 763.3 L721.6 767.5 L708.3 773.3 L705.0 790.0 L703.3 795.8"/>
<path d="M763.3 740.0 L861.5 800.0 L869.9 804.1 L866.5 797.5 L870.7 796.6 L874.0 799.1 L923.2 782.5 L929.8 780.0"/>
<path d="M929.8 780.0 C926.5 790.0 926.5 790.0 919.8 810.0 C913.2 829.9 916.5 819.9 909.8 839.9 C903.2 859.9 905.4 852.4 899.8 869.9 C894.3 887.4 895.4 884.9 893.2 892.4"/>
<path d="M893.2 892.4 L890.7 894.1"/>
<path d="M890.7 894.1 C877.6 897.4 876.2 896.8 851.5 904.1 C826.8 911.3 828.2 911.8 816.6 915.7"/>
<path d="M861.5 801.6 L846.5 813.3 L836.5 812.8"/>
<path d="M836.5 812.8 C823.8 817.4 819.3 818.1 798.2 826.6 C777.1 835.1 786.6 831.1 773.3 838.3 C759.9 845.5 765.5 842.2 758.3 848.3 C751.1 854.4 755.5 847.2 751.6 856.6 C747.7 866.0 751.1 861.0 746.6 876.6 C742.2 892.1 741.9 888.2 738.3 903.2 C734.7 918.2 734.7 912.1 735.8 921.5 C736.9 931.0 735.8 925.4 741.6 931.5 C747.4 937.6 744.4 935.7 753.3 939.9 C762.2 944.0 760.5 942.4 768.3 944.0 C776.0 945.7 773.8 944.6 776.6 944.9"/>
<path d="M776.6 944.9 C786.6 937.6 782.1 945.4 806.6 923.2 C831.0 901.0 826.6 900.4 849.9 878.2 C873.2 856.0 862.1 866.6 876.5 856.6 C891.0 846.6 883.2 852.1 893.2 848.3 C903.2 844.4 902.1 846.0 906.5 844.9"/>
<path d="M836.5 834.9 L776.6 859.9"/>
<path d="M776.6 859.9 C774.6 861.6 773.3 860.5 770.8 864.9 C768.3 869.4 768.3 863.8 769.1 873.2 C769.9 882.7 768.5 880.5 773.3 893.2 C778.0 906.0 775.5 901.0 783.3 911.6 C791.0 922.1 792.1 920.4 796.6 924.9"/>
<path d="M913.2 821.6 C907.6 818.8 908.7 817.2 896.5 813.3 C884.3 809.4 889.8 809.7 876.5 810.0 C863.2 810.2 867.1 808.6 856.5 814.1 C846.0 819.7 850.2 816.9 844.9 826.6 C839.6 836.3 841.3 830.5 840.7 843.3 C840.2 856.0 840.2 853.3 843.2 864.9 C846.3 876.6 847.7 873.8 849.9 878.2"/>
<path d="M909.8 830.8 C904.3 827.7 904.3 825.5 893.2 821.6 C882.1 817.7 887.6 818.6 876.5 819.1 C865.4 819.7 868.2 818.6 859.9 823.3 C851.5 828.0 855.4 824.9 851.5 833.3 C847.7 841.6 848.2 837.2 848.2 848.3 C848.2 859.4 849.6 858.3 851.5 866.6 C853.5 874.9 853.2 871.0 854.0 873.2"/>
<path d="M673.7 830.8 L693.3 854.9 L735.0 904.9"/>
<path d="M673.7 904.1 L738.3 939.9 L749.9 947.0"/>
<path d="M660.0 884.9 L673.7 904.1"/>
<path d="M919.8 843.3 L933.7 849.9"/>
<path d="M893.2 900.7 C899.8 902.4 899.7 901.0 913.2 905.7 C926.7 910.4 926.8 911.8 933.7 914.9"/>
<path d="M806.6 947.0 C813.2 945.5 809.9 942.4 826.6 942.4 C843.2 942.4 846.5 945.5 856.5 947.0"/>
<path d="M596.5 947.0 L774.9 1057.4"/>
<path d="M627.3 947.0 L709.9 997.5"/>
<path d="M709.9 997.5 C717.7 1001.9 721.6 1005.2 733.2 1010.8 C744.9 1016.3 738.2 1014.4 744.9 1014.1 C751.5 1013.8 749.0 1014.7 753.2 1010.0 C757.4 1005.2 755.4 1006.6 757.4 1000.0 C759.3 993.3 758.2 996.6 759.0 990.0 C759.9 983.3 757.9 988.3 759.9 980.0 C761.8 971.6 761.0 973.9 764.9 965.0 C768.7 956.1 767.1 960.0 771.5 953.3 C776.0 946.7 776.0 947.8 778.2 945.0"/>
<path d="M651.4 947.0 L698.2 976.6"/>
<path d="M698.2 976.6 C704.9 980.3 707.1 982.7 718.2 987.5 C729.3 992.2 722.7 990.5 731.6 990.8 C740.4 991.1 735.4 991.9 744.9 988.3 C754.3 984.7 754.9 982.7 759.9 980.0"/>
<path d="M749.9 947.0 C753.2 947.3 753.8 947.8 759.9 948.0 C766.0 948.2 762.1 948.5 768.2 947.5 C774.3 946.5 772.6 947.5 778.2 945.0 C783.7 942.5 782.6 941.7 784.9 940.0"/>
<path d="M773.2 955.0 C771.0 963.9 770.1 964.4 766.5 981.6 C762.9 998.8 764.3 986.1 762.4 1006.6 C760.4 1027.2 761.3 1031.1 760.7 1043.3"/>
<path d="M833.7 942.5 C825.7 943.9 823.3 941.9 809.8 946.7 C796.3 951.4 802.6 947.8 793.2 956.7 C783.7 965.5 787.6 960.5 781.5 973.3 C775.4 986.1 777.9 979.4 774.9 995.0 C771.8 1010.5 773.2 1005.0 772.4 1019.9 C771.5 1034.9 771.5 1027.4 772.4 1039.9 C773.2 1052.4 774.0 1051.6 774.9 1057.4"/>
<path d="M833.7 956.7 C826.8 958.3 825.5 956.1 813.2 961.7 C800.8 967.2 805.9 963.9 796.5 973.3 C787.1 982.7 791.0 978.9 784.9 990.0 C778.7 1001.1 781.2 996.6 778.2 1006.6 C775.1 1016.6 776.8 1008.8 775.7 1019.9 C774.6 1031.1 775.0 1027.7 774.9 1039.9 C774.7 1052.1 775.1 1051.0 775.2 1056.6"/>
<path d="M713.7 423.3 C734.7 436.1 736.8 435.0 776.6 461.6 C816.5 488.3 799.9 477.2 833.3 503.3 C866.6 529.3 846.0 512.0 876.6 539.9 C907.1 567.8 908.8 571.3 924.9 587.0"/>
<path d="M713.7 455.3 C719.7 459.1 709.0 450.3 731.7 466.6 C754.3 482.9 750.0 478.5 781.6 504.1 C813.3 529.6 796.9 515.6 826.6 543.2 C856.3 570.9 856.0 572.4 870.7 587.0"/>
<path d="M713.7 469.9 C715.8 469.8 713.4 469.6 720.0 469.6 C726.5 469.6 723.9 467.1 733.3 469.9 C742.8 472.8 732.2 466.9 748.3 478.3 C764.4 489.6 770.5 495.5 781.6 504.1"/>
<path d="M713.7 494.9 C714.7 493.3 712.3 493.3 716.7 489.9 C721.0 486.6 719.4 486.6 726.7 484.9 C733.9 483.3 730.0 483.0 738.3 484.9 C746.6 486.9 737.2 483.5 751.6 490.8 C766.1 498.0 756.6 488.5 781.6 506.6 C806.6 524.7 797.6 518.2 826.6 545.1 C855.6 571.9 854.7 573.0 868.7 587.0"/>
<path d="M781.6 504.1 L826.6 543.2 L870.7 587.0 L868.7 587.0 L826.6 545.1 L781.6 506.6Z" fill="#000"/>
<path d="M713.7 539.9 L785.0 587.0"/>
<path d="M924.9 587.0 C932.1 594.7 926.9 585.1 946.5 610.0 C966.1 634.9 971.3 644.4 983.7 661.6"/>
<path d="M868.6 587.0 C871.2 588.8 868.3 584.3 876.6 592.5 C884.8 600.7 882.1 597.5 893.2 611.6 C904.3 625.8 896.0 616.1 909.9 635.0 C923.7 653.8 923.7 651.1 934.9 668.3 C946.0 685.5 939.3 673.8 943.2 686.6 C947.1 699.4 945.7 693.3 946.5 706.6 C947.3 719.9 947.3 715.5 945.7 726.6 C944.0 737.7 945.5 727.7 941.5 739.9 C937.5 752.1 937.6 749.9 933.7 763.2 C929.8 776.5 931.7 771.9 929.9 779.9 C928.0 787.8 928.7 784.6 928.2 787.0"/>
<path d="M868.7 587.0 L870.7 587.0 L893.2 611.6 L892.2 612.0Z" fill="#000"/>
<path d="M785.0 587.0 L816.6 610.0 L874.1 648.3"/>
<path d="M751.6 635.8 L806.6 610.8 L816.6 610.0"/>
<path d="M713.7 613.3 L806.6 678.3"/>
<path d="M770.8 694.9 L806.6 678.3 L874.1 648.3 L909.9 636.6"/>
<path d="M789.9 700.8 L913.2 647.5"/>
<path d="M713.7 636.6 C715.2 638.8 713.4 636.1 718.3 643.3 C723.2 650.5 721.1 648.3 728.3 658.3 C735.5 668.3 731.1 663.8 740.0 673.3 C748.9 682.7 744.7 678.8 755.0 686.6 C765.2 694.4 765.5 693.3 770.8 696.6"/>
<path d="M770.8 696.6 L891.5 779.0 L929.9 779.0"/>
<ellipse cx="738.3" cy="656.9" rx="8.0" ry="4.7" transform="rotate(0.0 738.3 656.9)"/>
<path d="M795.8 702.4 C798.3 705.5 797.4 705.7 803.3 711.6 C809.1 717.4 805.5 715.2 813.3 719.9 C821.0 724.6 817.2 722.7 826.6 725.7 C836.0 728.8 834.4 726.6 841.6 729.1 C848.8 731.6 846.0 731.8 848.2 733.2"/>
<path d="M848.2 733.2 L893.2 763.2"/>
<path d="M893.2 763.2 C897.1 763.2 896.5 765.4 904.9 763.2 C913.2 761.0 908.6 762.7 918.2 756.5 C927.8 750.4 925.6 750.7 933.7 744.9 C941.7 739.1 939.5 741.0 942.3 739.1"/>
<ellipse cx="819.6" cy="704.9" rx="11.3" ry="5.3" transform="rotate(0.0 819.6 704.9)"/>
<ellipse cx="856.2" cy="729.1" rx="10.8" ry="5.5" transform="rotate(0.0 856.2 729.1)"/>
<path d="M859.1 706.6 C864.9 704.4 855.2 709.1 876.6 699.9 C897.9 690.8 907.6 686.0 923.2 679.1"/>
<path d="M923.2 679.1 L931.5 679.9 L936.5 677.4"/>
<path d="M713.7 706.6 L763.3 739.1"/>
<path d="M946.5 609.9 C955.4 621.3 954.9 618.4 973.3 644.1 C991.7 669.8 992.2 672.7 1001.6 687.0"/>
<path d="M946.7 609.1 C966.6 603.8 964.4 606.3 1006.6 593.3 C1048.8 580.2 1028.8 587.2 1073.2 569.9 C1117.7 552.7 1093.1 563.3 1139.9 541.6 C1186.7 520.0 1189.1 517.2 1213.7 505.0"/>
<path d="M960.8 617.4 C976.1 613.0 969.1 616.0 1006.6 604.1 C1044.1 592.1 1028.8 598.0 1073.2 581.6 C1117.7 565.2 1093.1 575.5 1139.9 555.0 C1186.7 534.4 1189.1 531.6 1213.7 520.0"/>
<path d="M984.1 618.2 C991.6 616.6 971.4 625.2 1006.6 613.2 C1041.9 601.3 1045.5 599.4 1089.9 582.4 C1134.3 565.5 1098.6 580.8 1139.9 562.4 C1181.1 544.1 1189.1 539.1 1213.7 527.5"/>
<path d="M975.0 614.1 L980.0 612.7 L984.1 618.2"/>
<path d="M960.8 617.4 L965.0 624.9 L1003.3 687.0"/>
<path d="M975.0 614.9 L985.0 626.6 L986.6 631.6 L995.0 636.6 L1006.6 634.9 L1034.9 651.6 L1038.3 660.7 L1048.3 659.9 L1069.9 673.2 L1081.6 679.9 L1084.9 687.0"/>
<path d="M966.6 624.9 L973.3 628.2 L1023.3 660.7 L1046.6 671.5 L1054.9 679.9 L1056.6 687.0"/>
<path d="M970.0 629.9 L1010.0 687.0"/>
<path d="M1003.3 674.9 L1027.4 666.5"/>
<path d="M1054.9 687.0 L1059.9 682.4 L1066.6 687.0"/>
<path d="M1006.6 613.2 C1008.8 615.2 1008.8 616.3 1013.3 619.1 C1017.7 621.8 1011.1 621.3 1019.9 621.6 C1028.8 621.8 1033.3 620.5 1039.9 619.9"/>
<path d="M1039.9 619.9 L1076.6 641.6"/>
<path d="M1090.7 582.4 C1090.5 588.3 1091.0 586.9 1089.9 599.9 C1088.8 613.0 1088.2 607.1 1087.4 621.6 C1086.6 636.0 1086.0 631.6 1087.4 643.2 C1088.8 654.9 1087.4 647.7 1091.6 656.5 C1095.7 665.4 1093.2 661.5 1099.9 669.9 C1106.6 678.2 1104.9 675.8 1111.6 681.5 C1118.2 687.3 1117.1 685.2 1119.9 687.0"/>
<path d="M1096.6 580.8 C1096.0 588.8 1095.2 589.6 1094.9 604.9 C1094.6 620.2 1094.1 613.8 1095.7 626.6 C1097.4 639.3 1096.3 633.2 1099.9 643.2 C1103.5 653.2 1102.1 649.9 1106.6 656.5 C1111.0 663.2 1111.0 661.0 1113.2 663.2"/>
<path d="M1113.2 663.2 L1148.2 687.0"/>
<path d="M1001.6 687.0 L1023.3 720.0 L1046.6 758.3 L1069.9 796.6 L1089.9 829.9 L1099.9 846.6 L1106.6 852.4 L1154.9 887.0"/>
<path d="M1003.3 687.0 L1013.3 692.5 L1019.9 697.5 L1039.9 730.0 L1063.3 768.3 L1103.2 834.9 L1108.2 851.6"/>
<path d="M1019.9 697.5 L1068.2 726.6"/>
<path d="M1049.9 715.0 L1055.8 680.8"/>
<path d="M1055.8 682.5 L1073.2 690.0 L1079.9 690.8 L1086.6 696.7"/>
<path d="M1081.6 680.8 C1083.2 683.9 1078.2 684.2 1086.6 690.0 C1094.9 695.8 1095.5 694.4 1106.6 698.3 C1117.7 702.2 1115.4 700.5 1119.9 701.7"/>
<path d="M1111.6 680.0 L1148.2 701.7"/>
<path d="M1148.2 687.0 L1173.2 701.7 L1178.2 706.6 L1178.2 711.6"/>
<path d="M1054.1 733.3 L1129.9 700.0 L1169.8 713.3"/>
<path d="M1066.6 736.6 L1134.0 707.5 L1163.2 715.8"/>
<path d="M1061.6 762.4 L1078.2 755.0 L1213.7 696.7"/>
<path d="M1049.9 744.1 C1054.4 744.4 1053.8 741.3 1063.3 745.0 C1072.7 748.6 1073.2 751.6 1078.2 755.0"/>
<path d="M1068.2 777.4 L1078.2 774.9 L1213.7 715.8"/>
<path d="M1213.7 730.0 L1098.2 780.8 L1111.6 790.8 L1108.2 796.6 L1154.9 814.1 L1213.7 794.9"/>
<path d="M1138.2 768.3 L1169.8 756.6 L1176.5 759.1 L1173.2 764.9 L1144.9 774.9 L1138.2 772.4Z"/>
<path d="M1126.5 793.3 L1154.9 781.6 L1161.5 784.9 L1156.5 789.9 L1133.2 797.4 L1126.5 795.8Z"/>
<path d="M1213.7 774.9 L1206.5 774.9 L1164.9 793.3 L1164.9 796.6 L1173.2 799.9 L1213.7 784.9"/>
<path d="M1213.7 735.8 L1206.5 738.3 L1206.5 742.5 L1213.7 745.0"/>
<path d="M1213.7 753.3 L1189.8 764.9 L1189.8 768.3 L1196.5 769.9 L1213.7 763.3"/>
<ellipse cx="1121.5" cy="782.9" rx="6.3" ry="4.7" transform="rotate(0.0 1121.5 782.9)"/>
<ellipse cx="1121.5" cy="782.9" rx="5.0" ry="3.3" transform="rotate(0.0 1121.5 782.9)"/>
<ellipse cx="1121.5" cy="782.9" rx="7.7" ry="6.0" transform="rotate(0.0 1121.5 782.9)"/>
<path d="M1129.9 786.6 L1213.7 750.8"/>
<path d="M1153.2 774.1 L1213.7 749.1"/>
<path d="M1101.6 832.4 L1171.5 816.6 L1179.8 824.1 L1213.7 815.7"/>
<path d="M1108.2 844.9 L1179.8 824.9"/>
<path d="M1179.8 824.1 C1181.0 826.0 1183.2 823.5 1183.2 829.9 C1183.2 836.3 1176.5 834.9 1179.8 843.2 C1183.2 851.6 1188.7 851.0 1193.2 854.9"/>
<path d="M1193.2 854.9 C1188.7 858.8 1186.5 858.2 1179.8 866.5 C1173.2 874.9 1175.4 873.0 1173.2 879.9 C1171.0 886.7 1173.2 884.6 1173.2 887.0"/>
<path d="M1193.2 856.5 L1213.7 851.6"/>
<path d="M1186.5 863.2 C1185.9 867.7 1183.7 868.6 1184.8 876.5 C1185.9 884.5 1188.2 883.5 1189.8 887.0"/>
<path d="M940.0 852.4 C951.1 856.0 948.3 857.4 973.3 863.2 C998.3 869.0 990.0 868.5 1015.0 869.9 C1039.9 871.3 1023.3 872.1 1048.3 867.4 C1073.2 862.7 1076.0 859.6 1089.9 855.7"/>
<path d="M1370.1 610.0 L1369.9 628.3"/>
<path d="M1213.7 696.6 L1404.0 615.8 L1420.7 624.1 L1394.9 635.8 L1213.7 715.7"/>
<path d="M1213.7 729.9 L1335.7 676.6 L1351.6 685.7 L1360.7 685.7 L1370.7 691.6 L1404.0 701.6"/>
<path d="M1394.9 635.8 C1396.0 637.7 1392.1 636.9 1398.2 641.6 C1404.3 646.3 1404.3 646.3 1413.2 649.9 C1422.1 653.5 1418.2 652.4 1424.9 652.4 C1431.5 652.4 1427.9 651.6 1433.2 649.9 C1438.5 648.3 1438.2 648.3 1440.7 647.4"/>
<path d="M1411.5 631.6 L1434.9 643.3"/>
<path d="M1440.7 647.4 C1444.3 646.9 1444.6 646.3 1451.5 645.8 C1458.4 645.2 1457.3 644.4 1461.5 645.8 C1465.7 647.2 1464.6 644.1 1464.0 649.9 C1463.4 655.8 1465.1 653.3 1459.8 663.3 C1454.6 673.3 1459.3 669.9 1448.2 679.9 C1437.1 689.9 1441.2 685.7 1426.5 693.2 C1411.8 700.7 1411.5 699.4 1404.0 702.4"/>
<path d="M1413.2 649.9 C1411.0 654.4 1413.2 653.8 1406.5 663.3 C1399.9 672.7 1403.8 668.8 1393.2 678.3 C1382.7 687.7 1381.0 687.1 1374.9 691.6"/>
<path d="M1404.0 702.4 L1316.6 749.9 L1273.3 767.0"/>
<ellipse cx="1439.8" cy="664.9" rx="10.8" ry="5.8" transform="rotate(0.0 1439.8 664.9)"/>
<ellipse cx="1439.8" cy="664.9" rx="6.7" ry="3.3" transform="rotate(0.0 1439.8 664.9)"/>
<path d="M1483.7 731.6 L1466.5 739.0 L1401.5 767.0"/>
<path d="M1466.5 739.0 C1469.3 743.8 1470.9 743.9 1474.8 753.2 C1478.7 762.5 1477.0 762.4 1478.2 767.0"/>
<path d="M1469.8 758.2 L1456.5 767.0"/>
<ellipse cx="1330.8" cy="690.7" rx="8.3" ry="5.3" transform="rotate(0.0 1330.8 690.7)"/>
<ellipse cx="1330.8" cy="690.7" rx="6.7" ry="4.0" transform="rotate(0.0 1330.8 690.7)"/>
<ellipse cx="1330.8" cy="690.7" rx="5.0" ry="2.7" transform="rotate(0.0 1330.8 690.7)"/>
<path d="M1275.8 710.7 L1280.0 704.9 L1303.3 696.6 L1313.3 698.2 L1311.6 703.2 L1289.9 712.4 L1280.0 714.1Z"/>
<path d="M1329.1 704.1 L1333.3 699.9 L1356.6 693.2 L1364.1 695.7 L1361.6 700.7 L1339.9 708.2 L1331.6 708.2Z"/>
<path d="M1316.6 728.2 L1323.3 722.4 L1364.9 708.2 L1374.9 711.6 L1371.6 717.4 L1336.6 732.4 L1321.6 732.4Z"/>
<path d="M1264.1 734.1 L1270.0 728.2 L1293.3 719.9 L1300.8 722.4 L1298.3 727.4 L1276.6 735.7 L1266.6 736.5Z"/>
<path d="M1210.0 734.9 L1235.0 726.6 L1244.1 729.9 L1241.6 736.5 L1220.0 744.9 L1210.0 744.9"/>
<path d="M1210.0 754.0 L1220.0 751.5 L1226.7 754.9 L1223.3 759.9 L1210.0 765.7"/>
<path d="M1230.0 767.0 L1235.0 762.4 L1286.6 739.9 L1303.3 737.4 L1316.6 741.5 L1316.6 748.2"/>
<path d="M1213.7 751.0 L1245.8 734.1 L1326.6 701.6"/>
<path d="M1213.7 749.2 L1245.8 732.4 L1326.6 699.9"/>
<path d="M1276.6 767.0 L1316.6 751.2"/>
<path d="M1392.7 560.0 L1405.1 573.3 L1466.8 648.3 L1481.8 664.1 L1494.3 675.8 L1503.4 673.6 L1537.6 704.6 L1595.9 747.9"/>
<path d="M1405.1 573.3 L1404.3 591.6 L1419.3 613.3 L1431.0 635.0 L1439.3 647.4"/>
<path d="M1409.3 560.0 L1454.3 608.3 L1500.9 659.9 L1504.2 666.6 L1569.2 729.9 L1607.5 767.0"/>
<path d="M1424.3 560.0 L1628.3 767.0"/>
<path d="M1343.2 767.0 L1409.8 726.6 L1494.3 683.3"/>
<path d="M1494.3 683.3 C1497.0 683.0 1497.6 681.3 1502.6 682.4 C1507.6 683.5 1507.0 685.2 1509.2 686.6"/>
<path d="M1509.2 686.6 L1541.6 730.6 L1570.5 764.4 L1580.4 785.3 L1584.4 796.7"/>
<path d="M1466.4 739.0 C1469.0 737.1 1468.3 736.0 1474.3 733.2 C1480.2 730.4 1476.5 730.7 1484.3 730.7 C1492.0 730.7 1485.4 729.1 1497.6 733.2 C1509.8 737.4 1507.6 736.5 1520.9 743.2 C1534.2 749.9 1525.9 745.3 1537.6 753.2 C1549.2 761.1 1549.8 762.4 1555.9 767.0"/>
<path d="M1487.6 733.2 L1515.9 749.9 L1537.6 767.0"/>
<path d="M1490.9 749.0 L1500.9 767.0"/>
<path d="M1545.9 757.4 L1560.9 767.0"/>
<path d="M1213.8 815.8 L1343.2 767.0"/>
<path d="M1202.5 852.5 L1401.5 767.0"/>
<path d="M1193.2 856.5 C1200.1 855.2 1197.3 853.7 1213.8 852.5 C1230.2 851.3 1220.4 851.2 1242.5 853.0 C1264.6 854.8 1250.8 851.5 1280.0 858.0 C1309.2 864.5 1296.7 859.3 1330.0 872.5 C1363.3 885.7 1342.5 878.3 1380.0 897.5 C1417.5 916.7 1405.8 911.7 1442.5 930.0 C1479.2 948.3 1474.2 945.0 1490.0 952.5"/>
<path d="M1292.5 818.8 C1301.7 829.2 1290.8 827.1 1320.0 850.0 C1349.2 872.9 1326.7 857.5 1380.0 887.5 C1433.3 917.5 1443.3 918.3 1480.0 940.0 C1516.7 961.7 1486.7 948.3 1490.0 952.5"/>
<path d="M1307.5 810.0 C1315.0 817.5 1304.2 812.9 1330.0 832.5 C1355.8 852.1 1343.3 841.2 1385.0 868.8 C1426.7 896.2 1424.6 895.2 1455.0 915.0 C1485.4 934.8 1469.2 923.8 1476.2 928.2"/>
<path d="M1385.0 868.8 L1396.2 781.2"/>
<path d="M1253.8 862.5 C1253.3 870.0 1251.2 872.5 1252.5 885.0 C1253.8 897.5 1251.7 892.1 1257.5 900.0 C1263.3 907.9 1254.2 904.2 1270.0 908.8 C1285.8 913.3 1276.7 905.8 1305.0 913.8 C1333.3 921.7 1321.7 915.4 1355.0 932.5 C1388.3 949.6 1379.2 946.7 1405.0 965.0 C1430.8 983.3 1423.3 980.0 1432.5 987.5"/>
<path d="M1173.2 887.0 C1174.7 892.2 1166.9 888.2 1177.5 902.5 C1188.1 916.8 1190.8 914.2 1205.0 930.0 C1219.2 945.8 1212.9 938.3 1220.0 950.0 C1227.1 961.7 1223.3 955.0 1226.2 965.0 C1229.2 975.0 1227.9 975.0 1228.8 980.0"/>
<path d="M1189.8 887.0 C1194.8 896.3 1194.1 897.3 1205.0 915.0 C1215.9 932.7 1214.2 925.0 1222.5 940.0 C1230.8 955.0 1226.2 946.7 1230.0 960.0 C1233.8 973.3 1232.5 973.3 1233.8 980.0"/>
<path d="M1130.0 867.5 L1177.5 902.5"/>
<path d="M1232.5 945.0 C1248.3 946.2 1247.5 942.9 1280.0 948.8 C1312.5 954.6 1288.3 945.1 1330.0 962.5 C1371.7 979.9 1380.0 988.2 1405.0 1001.0"/>
<path d="M1407.5 762.5 C1410.8 771.7 1412.5 772.5 1417.5 790.0 C1422.5 807.5 1419.6 794.2 1422.5 815.0 C1425.4 835.8 1426.2 826.7 1426.2 852.5 C1426.2 878.3 1423.8 879.2 1422.5 892.5"/>
<path d="M1390.0 772.5 L1407.5 762.5 L1465.0 737.5"/>
<path d="M1412.5 765.0 C1420.0 771.7 1424.2 770.8 1435.0 785.0 C1445.8 799.2 1440.0 789.2 1445.0 807.5 C1450.0 825.8 1447.9 806.7 1450.0 840.0 C1452.1 873.3 1450.8 885.0 1451.2 907.5"/>
<path d="M1465.0 737.5 C1469.2 746.7 1471.7 743.3 1477.5 765.0 C1483.3 786.7 1480.4 769.2 1482.5 802.5 C1484.6 835.8 1483.8 830.8 1483.8 865.0 C1483.8 899.2 1482.9 891.7 1482.5 905.0"/>
<path d="M1451.2 770.0 L1467.5 758.8 L1471.2 765.0 L1455.0 781.2Z"/>
<path d="M1452.5 817.5 L1472.5 811.2 L1477.5 817.5 L1475.0 835.0 L1452.5 842.5"/>
<path d="M1452.5 862.5 L1475.0 856.2 L1480.0 862.5 L1477.5 875.0 L1452.5 883.8"/>
<path d="M1432.5 987.5 L1442.5 977.5 L1467.8 967.2"/>
<path d="M1432.5 987.5 L1435.0 1001.0"/>
<path d="M1445.0 1001.0 L1541.0 955.0"/>
<path d="M1213.8 775.0 C1215.8 775.4 1217.1 774.2 1220.0 776.2 C1222.9 778.3 1224.6 778.3 1222.5 781.2 C1220.4 784.2 1216.7 783.8 1213.8 785.0"/>
<path d="M1511.7 786.6 C1515.9 787.1 1515.6 786.0 1524.2 788.0 C1532.8 789.9 1527.6 787.1 1537.6 792.5 C1547.5 797.9 1543.7 796.6 1554.2 804.1 C1564.8 811.6 1564.2 811.4 1569.2 815.0"/>
<path d="M1509.2 803.6 C1513.1 803.8 1513.7 802.6 1520.9 804.1 C1528.1 805.7 1522.0 803.3 1530.9 808.3 C1539.8 813.3 1535.9 811.6 1547.5 819.1 C1559.2 826.6 1559.8 826.9 1565.9 830.8"/>
<path d="M1511.7 786.6 L1509.2 803.6"/>
<path d="M1525.9 760.0 L1554.2 781.7 L1569.2 795.8 L1570.0 815.0 L1565.9 831.6 L1560.9 863.3 L1559.2 876.6"/>
<ellipse cx="1536.7" cy="817.5" rx="5.8" ry="8.3" transform="rotate(-10.0 1536.7 817.5)"/>
<ellipse cx="1548.4" cy="873.3" rx="9.7" ry="15.0" transform="rotate(-10.0 1548.4 873.3)"/>
<ellipse cx="1547.5" cy="871.9" rx="4.5" ry="7.5" transform="rotate(-10.0 1547.5 871.9)"/>
<path d="M1509.2 803.6 C1513.1 811.3 1515.1 810.1 1520.9 826.6 C1526.7 843.2 1524.0 836.6 1526.7 853.3 C1529.5 869.9 1527.8 863.8 1529.2 876.6 C1530.6 889.4 1530.3 886.6 1530.9 891.6"/>
<path d="M1530.9 891.6 L1524.2 895.7 L1499.2 908.2"/>
<path d="M1524.2 895.7 L1550.9 911.6 L1544.2 926.6 L1527.6 933.2"/>
<path d="M1482.6 904.9 L1527.6 933.2 L1512.6 944.0 L1479.3 939.0 L1477.6 929.9"/>
<path d="M1512.6 913.2 L1534.2 907.4 L1538.4 910.7 L1520.9 919.9 L1514.2 918.2Z"/>
<path d="M1477.6 929.1 L1500.9 920.7 L1506.7 923.2 L1480.9 934.9Z"/>
<path d="M1544.2 760.0 C1552.0 765.6 1556.4 765.6 1567.5 776.7 C1578.6 787.8 1572.8 779.4 1577.5 793.3 C1582.2 807.2 1580.6 796.1 1581.7 818.3 C1582.8 840.5 1582.2 835.0 1580.9 859.9 C1579.5 884.9 1581.4 873.8 1577.5 893.2 C1573.6 912.7 1577.0 902.7 1569.2 918.2 C1561.4 933.8 1571.4 923.6 1554.2 939.9 C1537.0 956.1 1529.8 958.0 1517.6 967.0"/>
<path d="M1547.5 765.0 C1553.7 770.0 1556.7 768.9 1565.9 780.0 C1575.0 791.1 1570.9 782.8 1575.0 798.3 C1579.2 813.9 1578.1 803.3 1578.4 826.6 C1578.6 849.9 1578.4 846.1 1575.9 868.3 C1573.4 890.5 1577.0 876.6 1570.9 893.2 C1564.8 909.9 1567.0 904.9 1557.5 918.2 C1548.1 931.6 1557.5 924.3 1542.6 933.2 C1527.6 942.1 1537.6 933.6 1512.6 944.9 C1487.6 956.1 1482.6 959.6 1467.6 967.0"/>
<path d="M1559.2 876.6 C1557.5 882.1 1557.0 881.6 1554.2 893.2 C1551.4 904.9 1552.0 905.5 1550.9 911.6"/>
<path d="M1562.5 874.9 L1565.9 861.6 L1579.2 860.8"/>
<path d="M1562.5 874.9 L1565.9 883.3 L1577.5 889.1"/>
<path d="M1585.9 760.0 C1592.0 763.3 1596.4 762.8 1604.2 770.0 C1612.0 777.2 1606.7 777.2 1609.2 781.7 C1611.7 786.1 1611.1 787.2 1611.7 783.3 C1612.2 779.4 1614.4 777.8 1610.8 770.0 C1607.2 762.2 1604.2 763.3 1600.8 760.0"/>
<path d="M1624.2 760.0 C1626.4 762.8 1628.3 762.2 1630.8 768.3 C1633.3 774.4 1632.8 771.7 1631.7 778.3 C1630.5 785.0 1632.2 783.3 1627.5 788.3 C1622.8 793.3 1623.1 791.9 1617.5 793.3 C1612.0 794.7 1613.1 792.8 1610.8 792.5"/>
<path d="M1610.8 792.5 L1592.5 785.0 L1587.5 791.6 L1585.9 798.3"/>
<path d="M1585.9 798.3 C1587.0 803.9 1588.1 800.0 1589.2 815.0 C1590.3 830.0 1589.5 828.3 1589.2 843.3 C1588.9 858.3 1587.2 851.6 1588.4 859.9 C1589.5 868.3 1587.8 863.5 1592.5 868.3 C1597.2 873.0 1599.2 872.1 1602.5 874.1"/>
<path d="M1610.8 792.5 C1611.4 798.3 1612.5 798.6 1612.5 810.0 C1612.5 821.3 1613.6 818.3 1610.8 826.6 C1608.1 835.0 1611.4 829.7 1604.2 835.0 C1597.0 840.2 1594.2 839.9 1589.2 842.4"/>
<path d="M1624.2 791.6 C1623.1 795.0 1621.4 792.8 1620.8 801.6 C1620.3 810.5 1619.7 808.3 1622.5 818.3 C1625.3 828.3 1621.8 823.3 1629.2 831.6 C1636.5 839.9 1639.5 839.4 1644.7 843.3"/>
<path d="M1612.5 841.6 C1615.8 842.2 1616.7 840.5 1622.5 843.3 C1628.3 846.1 1628.3 845.8 1630.0 849.9 C1631.7 854.1 1628.3 853.8 1627.5 855.8"/>
<path d="M1627.5 855.8 L1604.2 874.1 L1602.5 906.6 L1594.2 907.4"/>
<path d="M1604.2 874.1 L1615.8 879.1 L1644.7 859.9"/>
<path d="M1615.8 879.1 L1611.7 915.7 L1602.5 909.9"/>
<path d="M1611.7 915.7 L1624.2 906.6 L1637.5 896.6 L1644.7 886.6"/>
<path d="M1624.2 906.6 L1620.8 967.0"/>
<path d="M1600.8 909.9 L1600.8 938.2 L1567.5 959.9 L1565.9 953.2 L1540.9 967.0"/>
<path d="M1567.5 962.4 L1619.2 934.1"/>
<path d="M1598.3 929.9 L1605.0 930.7"/>
<path d="M1581.7 818.3 L1585.9 798.3"/>
<path d="M933.6 914.8 C940.7 919.6 940.6 917.4 954.9 929.1 C969.2 940.9 962.7 935.3 976.6 950.0 C990.4 964.7 984.9 957.7 996.6 973.3 C1008.2 988.8 1002.9 981.9 1011.5 996.6 C1020.2 1011.3 1018.8 1010.5 1022.4 1017.4"/>
<path d="M833.7 943.0 C840.8 944.5 839.5 942.9 855.0 947.5 C870.4 952.0 863.3 948.6 880.0 956.6 C896.6 964.7 888.3 958.8 905.0 971.6 C921.6 984.4 912.2 976.1 929.9 994.9 C947.7 1013.8 948.8 1017.1 958.2 1028.2"/>
<path d="M833.7 957.5 C838.0 958.3 834.0 956.9 846.7 960.0 C859.3 963.0 855.0 959.4 871.6 966.6 C888.3 973.8 879.4 968.3 896.6 981.6 C913.8 994.9 906.6 989.1 923.3 1006.6 C939.9 1024.1 938.8 1024.9 946.6 1034.1"/>
<path d="M946.6 1034.1 L958.2 1029.1 L966.6 1028.2"/>
<path d="M966.6 1028.2 C972.1 1026.3 970.5 1024.9 983.2 1022.4 C996.0 1019.9 989.3 1019.9 1004.9 1020.8 C1020.4 1021.6 1010.4 1019.6 1029.9 1024.9 C1049.3 1030.2 1038.6 1027.1 1063.2 1036.6 C1087.8 1046.0 1090.2 1047.7 1103.7 1053.2"/>
<path d="M966.6 1028.2 L976.6 1034.9 L986.6 1028.2"/>
<path d="M986.6 1028.2 C991.0 1027.4 992.1 1024.1 999.9 1025.7 C1007.7 1027.4 1002.7 1025.2 1009.9 1033.2 C1017.1 1041.3 1014.9 1036.6 1021.5 1049.9 C1028.2 1063.2 1025.4 1054.2 1029.9 1073.2 C1034.3 1092.3 1033.2 1095.8 1034.9 1107.0"/>
<path d="M977.4 1035.7 C981.6 1043.8 976.8 1036.1 989.9 1059.9 C1002.9 1083.7 1007.7 1091.3 1016.5 1107.0"/>
<path d="M987.4 1029.1 C991.6 1037.1 991.3 1035.2 999.9 1053.2 C1008.5 1071.3 1004.9 1065.3 1013.2 1083.2 C1021.5 1101.1 1021.0 1099.1 1024.9 1107.0"/>
<path d="M980.7 1033.2 L987.4 1032.4 L988.2 1038.2 L982.4 1039.9Z" fill="#000"/>
<path d="M843.3 966.6 L846.7 965.8 L866.6 967.5 L870.0 973.3 L869.1 1009.9"/>
<path d="M869.1 1009.9 C867.2 1013.3 869.7 1014.9 863.3 1019.9 C856.9 1024.9 854.4 1023.3 850.0 1024.9"/>
<path d="M846.7 965.8 C846.1 967.7 842.2 969.1 845.0 971.6 C847.8 974.1 848.0 973.3 855.0 973.3 C861.9 973.3 861.9 973.6 865.8 971.6 C869.7 969.7 866.4 968.8 866.6 967.5"/>
<path d="M845.8 979.9 L863.3 982.4 L860.8 1013.3"/>
<path d="M860.8 1013.3 C858.9 1014.9 860.3 1016.3 855.0 1018.3 C849.7 1020.2 848.3 1018.8 845.0 1019.1"/>
<path d="M873.3 970.0 L874.1 992.4 L913.3 999.9 L919.9 1004.1"/>
<path d="M870.0 995.8 L909.9 1003.3 L919.9 1004.9"/>
<path d="M873.3 970.0 L909.9 994.9"/>
<path d="M1032.4 1030.7 C1032.6 1034.4 1030.7 1036.3 1033.2 1041.6 C1035.7 1046.8 1035.4 1045.5 1039.9 1046.6 C1044.3 1047.7 1043.2 1048.8 1046.5 1044.9 C1049.9 1041.0 1048.7 1038.2 1049.9 1034.9"/>
<ellipse cx="1041.2" cy="1035.7" rx="3.0" ry="3.0" transform="rotate(0.0 1041.2 1035.7)" fill="#000"/>
<ellipse cx="1096.5" cy="1059.9" rx="2.5" ry="2.5" transform="rotate(0.0 1096.5 1059.9)"/>
<ellipse cx="1054.9" cy="1088.2" rx="13.0" ry="15.8" transform="rotate(-15.0 1054.9 1088.2)"/>
<ellipse cx="1054.9" cy="1088.2" rx="5.8" ry="7.5" transform="rotate(-15.0 1054.9 1088.2)"/>
<path d="M830.0 911.7 L868.3 900.0"/>
<path d="M1223.3 965.8 C1208.8 966.1 1201.0 966.4 1179.9 966.7 C1158.8 966.9 1168.8 964.4 1160.0 966.7 C1151.1 968.9 1157.2 966.1 1153.3 973.3 C1149.4 980.5 1152.2 976.7 1148.3 988.3 C1144.4 1000.0 1145.0 995.5 1141.6 1008.3 C1138.3 1021.1 1138.3 1017.2 1138.3 1026.6 C1138.3 1036.1 1137.8 1030.5 1141.6 1036.6 C1145.5 1042.7 1141.6 1039.7 1150.0 1044.9 C1158.3 1050.2 1152.2 1049.1 1166.6 1052.4 C1181.1 1055.8 1176.6 1055.5 1193.3 1054.9 C1209.9 1054.4 1201.6 1053.5 1216.6 1050.8 C1231.6 1048.0 1231.0 1048.0 1238.2 1046.6"/>
<path d="M1179.9 966.7 C1179.4 970.0 1181.6 967.8 1178.3 976.7 C1175.0 985.5 1175.0 983.3 1170.0 993.3 C1165.0 1003.3 1166.1 997.2 1163.3 1006.6 C1160.5 1016.1 1161.1 1015.0 1161.6 1021.6 C1162.2 1028.3 1161.6 1024.4 1165.0 1026.6 C1168.3 1028.8 1165.5 1028.8 1171.6 1028.3 C1177.7 1027.7 1175.0 1026.6 1183.3 1025.0 C1191.6 1023.3 1187.7 1023.0 1196.6 1023.3 C1205.5 1023.6 1198.8 1022.2 1209.9 1025.8 C1221.0 1029.4 1223.3 1031.3 1229.9 1034.1"/>
<path d="M1171.6 971.7 C1171.9 976.1 1173.0 973.3 1172.5 985.0 C1171.9 996.6 1171.1 995.5 1170.0 1006.6 C1168.8 1017.7 1168.0 1013.0 1169.1 1018.3 C1170.2 1023.6 1168.6 1021.9 1173.3 1022.5 C1178.0 1023.0 1175.5 1023.0 1183.3 1020.0 C1191.1 1016.9 1191.6 1017.2 1196.6 1013.3 C1201.6 1009.4 1198.5 1013.3 1198.3 1008.3 C1198.0 1003.3 1196.9 1011.6 1195.8 998.3 C1194.7 985.0 1195.2 978.3 1194.9 968.3"/>
<path d="M1153.3 1028.3 C1156.6 1031.1 1155.5 1031.6 1163.3 1036.6 C1171.1 1041.6 1164.4 1041.1 1176.6 1043.3 C1188.8 1045.5 1182.2 1044.9 1199.9 1043.3 C1217.7 1041.6 1219.9 1039.9 1229.9 1038.3"/>
<ellipse cx="1160.0" cy="977.5" rx="5.3" ry="7.5" transform="rotate(20.0 1160.0 977.5)"/>
<ellipse cx="1160.0" cy="977.5" rx="4.3" ry="6.3" transform="rotate(20.0 1160.0 977.5)"/>
<ellipse cx="1149.1" cy="1020.8" rx="4.3" ry="7.0" transform="rotate(25.0 1149.1 1020.8)"/>
<path d="M1224.1 960.0 L1226.6 993.3 L1231.6 1035.0 L1238.2 1046.6 L1241.6 1054.9 L1240.7 1074.9 L1231.6 1077.4 L1231.6 1093.2 L1259.1 1084.1"/>
<path d="M1229.9 960.0 L1236.6 993.3 L1241.6 1038.3"/>
<path d="M1236.6 988.3 C1239.9 980.5 1241.0 973.9 1246.6 965.0 C1252.1 956.1 1246.6 962.8 1253.2 961.7 C1259.9 960.6 1253.8 960.0 1266.6 961.7 C1279.3 963.3 1279.3 963.1 1291.5 966.7 C1303.8 970.3 1297.9 968.6 1303.2 972.5 C1308.5 976.4 1309.6 968.6 1307.4 978.3 C1305.1 988.0 1302.9 992.5 1296.5 1001.6 C1290.2 1010.8 1294.9 1005.0 1288.2 1005.8 C1281.5 1006.6 1286.0 1006.4 1276.5 1004.1 C1267.1 1001.9 1273.2 1001.1 1259.9 999.1 C1246.6 997.2 1244.3 998.6 1236.6 998.3"/>
<path d="M1242.4 995.8 C1247.7 990.5 1249.6 985.5 1258.2 980.0 C1266.8 974.4 1258.2 977.8 1268.2 979.2 C1278.2 980.5 1279.9 981.1 1288.2 984.2 C1296.5 987.2 1292.1 983.0 1293.2 988.3 C1294.3 993.6 1292.1 996.1 1291.5 1000.0"/>
<path d="M1238.2 1017.5 C1243.2 1016.9 1242.7 1014.4 1253.2 1015.8 C1263.8 1017.2 1261.6 1016.4 1269.9 1021.6 C1278.2 1026.9 1276.5 1025.0 1278.2 1031.6 C1279.9 1038.3 1279.3 1036.1 1274.9 1041.6 C1270.4 1047.2 1273.2 1045.5 1264.9 1048.3 C1256.6 1051.1 1257.7 1050.5 1249.9 1049.9 C1242.1 1049.4 1244.3 1047.7 1241.6 1046.6"/>
<path d="M1241.6 1025.0 C1245.5 1024.4 1245.5 1022.2 1253.2 1023.3 C1261.0 1024.4 1259.9 1024.4 1264.9 1028.3 C1269.9 1032.2 1268.8 1030.5 1268.2 1035.0 C1267.7 1039.4 1269.3 1038.8 1263.2 1041.6 C1257.1 1044.4 1257.1 1043.3 1249.9 1043.3 C1242.7 1043.3 1244.3 1042.2 1241.6 1041.6"/>
<path d="M1241.6 1054.9 C1244.3 1058.3 1243.8 1059.9 1249.9 1064.9 C1256.0 1069.9 1253.2 1068.0 1259.9 1069.9 C1266.6 1071.9 1266.6 1070.5 1269.9 1070.8"/>
<path d="M1266.6 1049.1 L1357.7 1014.5"/>
<path d="M1357.7 1014.5 C1360.6 1014.1 1360.8 1012.6 1366.5 1013.3 C1372.2 1014.0 1368.1 1012.7 1374.8 1016.6 C1381.5 1020.6 1382.7 1022.3 1386.6 1025.1"/>
<path d="M1269.9 1070.8 L1386.6 1025.1"/>
<path d="M1269.9 1071.6 C1269.6 1075.5 1270.7 1076.6 1269.1 1083.3 C1267.4 1089.9 1269.1 1087.7 1264.9 1091.6 C1260.7 1095.5 1259.3 1093.8 1256.6 1094.9"/>
<path d="M1272.4 1080.8 L1373.7 1044.1"/>
<path d="M1178.3 1126.6 L1373.7 1063.3"/>
<path d="M1188.3 1116.6 L1266.6 1091.6"/>
<path d="M1314.9 960.0 L1373.7 986.6"/>
<path d="M1103.7 1053.3 C1116.3 1059.9 1123.4 1064.4 1141.6 1073.3 C1159.8 1082.1 1147.2 1076.3 1158.3 1079.9 C1169.4 1083.5 1163.3 1082.4 1175.0 1084.1 C1186.6 1085.7 1179.4 1086.3 1193.3 1084.9 C1207.2 1083.5 1203.8 1082.4 1216.6 1079.9 C1229.4 1077.4 1226.6 1078.3 1231.6 1077.4"/>
<path d="M1144.1 1076.6 C1143.6 1078.8 1142.2 1078.8 1142.5 1083.3 C1142.7 1087.7 1141.4 1086.6 1145.0 1089.9 C1148.6 1093.2 1149.1 1092.7 1153.3 1093.2 C1157.5 1093.8 1155.8 1094.9 1157.5 1091.6 C1159.1 1088.2 1158.0 1086.0 1158.3 1083.3"/>
<ellipse cx="1150.8" cy="1084.1" rx="4.0" ry="4.0" transform="rotate(0.0 1150.8 1084.1)" fill="#000"/>
<path d="M1157.5 1082.4 C1158.0 1086.0 1158.3 1084.1 1159.1 1093.2 C1160.0 1102.4 1157.7 1099.4 1160.0 1109.9 C1162.2 1120.4 1164.7 1113.8 1165.8 1124.9 C1166.9 1136.0 1164.7 1129.2 1163.3 1143.2 C1161.9 1157.3 1162.2 1159.1 1161.6 1167.0"/>
<path d="M1166.6 1124.9 L1170.0 1167.0"/>
<path d="M1223.3 1081.6 L1218.3 1098.2 L1213.3 1101.6 L1189.9 1101.6 L1184.1 1098.2 L1184.9 1089.1 L1189.9 1088.2"/>
<ellipse cx="1195.4" cy="1093.2" rx="3.0" ry="3.0" transform="rotate(0.0 1195.4 1093.2)" fill="#000"/>
<path d="M1209.1 1088.7 L1214.9 1088.7 L1214.9 1094.6 L1209.1 1094.6Z" fill="#000"/>
<path d="M1184.9 1089.1 C1184.9 1094.9 1186.6 1096.3 1184.9 1106.6 C1183.3 1116.8 1184.4 1112.1 1179.9 1119.9 C1175.5 1127.7 1175.0 1122.1 1171.6 1129.9 C1168.3 1137.7 1171.1 1130.8 1170.0 1143.2 C1168.8 1155.6 1168.8 1159.1 1168.3 1167.0"/>
<path d="M1106.7 1083.3 L1111.7 1080.8 L1150.0 1098.2 L1155.0 1103.2 L1151.6 1143.2 L1149.1 1156.5 L1143.3 1164.0 L1133.3 1163.2 L1106.7 1148.2 L1101.7 1141.5 L1103.3 1101.6Z"/>
<path d="M1111.7 1098.2 L1115.8 1093.2 L1141.6 1104.9 L1146.6 1109.9 L1144.1 1139.9 L1141.6 1149.9 L1135.8 1151.5 L1113.3 1139.9 L1108.3 1133.2 L1110.0 1109.9Z"/>
<path d="M1110.0 1124.1 L1141.6 1140.7"/>
<path d="M1100.0 1154.9 L1120.0 1167.0"/>
<path d="M1100.0 1058.3 L1102.5 1059.9 L1102.5 1069.1 L1100.0 1069.9"/>
<ellipse cx="1319.0" cy="1097.4" rx="10.3" ry="12.5" transform="rotate(20.0 1319.0 1097.4)"/>
<path d="M1227.4 1144.0 L1236.6 1139.0 L1239.9 1134.1 L1301.5 1111.6 L1304.9 1115.7 L1316.5 1110.7 L1324.9 1112.4"/>
<path d="M1324.9 1112.4 C1327.6 1116.0 1328.7 1114.1 1333.2 1123.2 C1337.6 1132.4 1334.8 1128.2 1338.2 1139.9 C1341.5 1151.5 1341.5 1152.1 1343.2 1158.2"/>
<path d="M1343.2 1158.2 L1373.7 1153.2"/>
<path d="M1209.9 1154.0 L1223.3 1149.0 L1241.6 1145.7 L1246.6 1139.9 L1299.9 1120.7 L1304.0 1124.9 L1314.9 1119.9 L1321.5 1122.4"/>
<path d="M1321.5 1122.4 C1323.7 1126.0 1324.3 1124.6 1328.2 1133.2 C1332.1 1141.8 1330.4 1136.9 1333.2 1148.2 C1336.0 1159.5 1335.4 1160.8 1336.5 1167.0"/>
<path d="M1385.2 960.0 L1432.6 990.8"/>
<path d="M1480.9 960.0 C1468.7 966.1 1458.7 970.5 1444.3 978.3 C1429.8 986.1 1441.2 978.9 1437.6 983.3 C1434.0 987.8 1435.1 983.9 1433.5 991.6 C1431.8 999.4 1432.9 1001.6 1432.6 1006.6"/>
<path d="M1386.7 1025.1 L1433.5 1005.8 L1530.9 960.0"/>
<path d="M1368.3 1048.3 L1554.2 960.8"/>
<path d="M1368.3 1062.9 L1486.1 1008.8 L1577.5 960.0"/>
<path d="M1386.7 1067.8 C1387.1 1062.7 1385.0 1065.6 1389.2 1061.4 C1393.3 1057.3 1388.7 1060.0 1399.1 1055.3 C1409.6 1050.5 1411.3 1049.2 1420.5 1047.1 C1429.7 1045.0 1424.7 1046.2 1426.8 1048.9 C1428.9 1051.7 1428.5 1049.8 1426.8 1055.3 C1425.1 1060.7 1433.1 1057.8 1421.8 1065.3 C1410.5 1072.8 1404.3 1074.0 1393.0 1077.8 C1381.7 1081.5 1389.9 1079.9 1387.8 1076.6 C1385.7 1073.3 1386.2 1072.8 1386.7 1067.8Z"/>
<path d="M1347.8 1089.1 C1348.5 1085.7 1347.5 1086.7 1350.3 1085.2 C1353.2 1083.8 1350.7 1082.2 1356.5 1084.8 C1362.3 1087.3 1360.3 1088.1 1367.8 1092.9 C1375.4 1097.7 1372.5 1097.9 1379.2 1099.1 C1385.8 1100.3 1369.4 1105.3 1387.8 1096.6 C1406.2 1087.8 1417.1 1084.5 1434.3 1072.8 C1451.4 1061.0 1436.0 1068.9 1439.3 1061.4 C1442.6 1053.9 1438.8 1058.6 1444.3 1050.3 C1449.7 1041.9 1447.7 1044.4 1455.6 1036.4 C1463.5 1028.5 1457.9 1033.2 1468.1 1026.5 C1478.3 1019.7 1477.9 1020.1 1486.1 1016.3 C1494.3 1012.5 1489.3 1014.3 1492.6 1015.0 C1495.9 1015.6 1495.6 1015.2 1495.9 1018.3 C1496.2 1021.3 1496.7 1020.8 1493.4 1024.1 C1490.1 1027.5 1495.8 1023.3 1486.1 1028.3 C1476.4 1033.2 1474.2 1032.9 1464.4 1038.9 C1454.7 1045.0 1461.6 1039.3 1456.9 1046.4 C1452.3 1053.5 1455.2 1050.7 1450.6 1060.3 C1446.0 1069.9 1449.8 1066.1 1443.1 1075.3 C1436.4 1084.4 1451.4 1075.8 1430.5 1087.7 C1409.5 1099.7 1401.2 1103.3 1380.3 1111.1 C1359.5 1118.8 1378.5 1116.3 1367.8 1111.1 C1357.2 1105.8 1355.0 1102.7 1348.3 1095.4 C1341.7 1088.1 1347.2 1092.5 1347.8 1089.1Z"/>
<path d="M1459.4 1066.6 C1459.9 1063.9 1451.4 1068.3 1461.9 1062.8 C1472.4 1057.2 1479.9 1053.9 1490.9 1049.9 C1502.0 1045.9 1487.9 1045.8 1495.1 1050.8 C1502.3 1055.8 1506.5 1058.3 1512.6 1064.9 C1518.7 1071.6 1514.5 1067.4 1513.4 1070.8 C1512.3 1074.1 1512.8 1073.5 1509.2 1074.9 C1505.6 1076.3 1508.1 1078.8 1502.6 1074.9 C1497.0 1071.0 1498.1 1067.4 1492.6 1063.3 C1487.0 1059.1 1494.9 1059.7 1485.9 1062.4 C1476.9 1065.2 1474.0 1068.8 1465.6 1071.6 C1457.2 1074.4 1462.7 1072.6 1460.6 1070.9 C1458.6 1069.3 1459.0 1069.3 1459.4 1066.6Z"/>
<path d="M1490.9 1046.6 C1492.6 1044.4 1487.6 1045.5 1495.9 1039.9 C1504.2 1034.4 1507.6 1035.5 1515.9 1030.0 C1524.2 1024.4 1519.2 1025.5 1520.9 1023.3"/>
<path d="M1520.9 1023.3 L1521.7 995.8"/>
<ellipse cx="1530.9" cy="1008.3" rx="6.3" ry="8.3" transform="rotate(15.0 1530.9 1008.3)"/>
<ellipse cx="1530.9" cy="1008.3" rx="4.7" ry="6.7" transform="rotate(15.0 1530.9 1008.3)"/>
<ellipse cx="1530.9" cy="1008.3" rx="3.0" ry="5.0" transform="rotate(15.0 1530.9 1008.3)"/>
<path d="M1620.8 960.0 L1619.2 988.3 L1592.5 1002.5 L1589.2 1015.0 L1585.9 1023.3 L1579.2 1030.0 L1575.9 1058.3 L1569.2 1064.9 L1557.5 1071.6 L1545.9 1072.4 L1542.6 1056.6 L1537.6 1056.6 L1527.6 1064.9 L1522.6 1069.9 L1519.2 1083.3 L1477.6 1118.2 L1480.1 1124.9 L1512.6 1134.9 L1524.2 1133.2 L1527.6 1124.9 L1522.6 1114.9 L1520.9 1101.6 L1525.9 1084.9 L1525.1 1066.6 L1545.1 1006.6 L1552.5 1004.1 L1559.2 996.6 L1567.5 994.1"/>
<ellipse cx="1574.2" cy="990.0" rx="6.7" ry="7.5" transform="rotate(10.0 1574.2 990.0)"/>
<ellipse cx="1574.2" cy="990.0" rx="5.0" ry="5.8" transform="rotate(10.0 1574.2 990.0)"/>
<ellipse cx="1580.0" cy="1015.0" rx="3.7" ry="4.2" transform="rotate(10.0 1580.0 1015.0)"/>
<path d="M1542.6 1056.6 C1546.4 1054.4 1548.1 1054.9 1554.2 1049.9 C1560.3 1044.9 1557.5 1048.3 1560.9 1041.6 C1564.2 1035.0 1560.9 1035.2 1564.2 1030.0 C1567.5 1024.7 1565.9 1025.8 1570.9 1025.8 C1575.9 1025.8 1576.4 1028.6 1579.2 1030.0"/>
<path d="M1477.6 1118.2 C1473.7 1120.2 1479.3 1120.7 1465.9 1124.1 C1452.6 1127.4 1469.3 1118.5 1437.6 1128.2 C1406.0 1137.9 1393.2 1144.9 1371.0 1153.2"/>
<path d="M1465.9 1124.1 C1450.9 1131.6 1452.6 1132.9 1421.0 1146.5 C1389.3 1160.1 1387.7 1158.8 1371.0 1164.9"/>
<path d="M1368.3 1128.2 C1372.6 1128.2 1366.8 1133.2 1381.0 1128.2 C1395.2 1123.2 1399.6 1117.4 1411.0 1113.2 C1422.4 1109.1 1414.0 1112.7 1415.1 1115.7 C1416.2 1118.8 1425.7 1114.6 1414.3 1122.4 C1402.9 1130.2 1396.3 1132.8 1381.0 1139.0 C1365.7 1145.3 1372.6 1140.5 1368.3 1141.2"/>
<path d="M1342.1 1121.7 C1338.7 1115.1 1342.1 1117.9 1345.2 1116.1 C1348.3 1114.2 1343.1 1111.7 1351.5 1116.1 C1359.8 1120.4 1361.1 1124.8 1370.3 1129.2 C1379.5 1133.6 1365.3 1134.4 1379.1 1129.2 C1392.9 1124.0 1399.3 1117.9 1411.7 1113.5 C1424.0 1109.2 1415.2 1113.3 1416.1 1116.1 C1416.9 1118.8 1424.8 1115.1 1414.2 1121.7 C1403.5 1128.3 1399.5 1130.4 1384.1 1135.9 C1368.6 1141.3 1377.4 1138.0 1367.8 1138.0 C1358.2 1138.0 1363.8 1141.3 1355.2 1135.9 C1346.7 1130.4 1345.4 1128.3 1342.1 1121.7Z"/>
<path d="M1360.3 980.0 L1420.4 1013.2"/>
<path d="M1412.9 980.0 L1432.4 991.3 L1434.2 1007.0"/>
<path d="M1432.4 991.3 L1436.7 985.0 L1445.5 980.0"/>
<path d="M1420.4 1135.9 L1455.5 1124.2 L1465.6 1124.2 L1486.0 1109.2"/>
<path d="M1441.8 1135.9 L1465.6 1124.2"/>
<path d="M1478.1 1115.4 C1479.0 1117.9 1478.0 1119.4 1480.6 1122.9 C1483.3 1126.5 1484.2 1125.0 1486.0 1126.1"/>
<path d="M976.7 1037.0 L1010.0 1092.0 L1016.6 1107.0 L1013.3 1112.0 L1018.3 1123.6 L1019.1 1131.9 L1011.6 1140.3 L1016.6 1156.9 L1025.0 1181.9 L1033.3 1180.2 L1043.3 1183.6 L1048.3 1173.6 L1050.8 1163.6"/>
<path d="M1050.8 1163.6 C1051.6 1161.4 1050.2 1161.9 1053.3 1156.9 C1056.3 1151.9 1054.4 1152.5 1059.9 1148.6 C1065.5 1144.7 1063.3 1145.8 1069.9 1145.3 C1076.6 1144.7 1076.6 1146.4 1079.9 1146.9"/>
<path d="M1079.9 1146.9 L1159.9 1184.4 L1189.8 1176.9 L1193.2 1183.6 L1204.8 1193.6 L1201.5 1218.5"/>
<path d="M1201.5 1218.5 C1205.4 1218.5 1204.8 1220.2 1213.2 1218.5 C1221.5 1216.9 1219.7 1218.0 1226.5 1213.5 C1233.3 1209.1 1231.3 1208.0 1233.7 1205.2"/>
<path d="M990.8 1037.0 L1031.6 1110.3 L1035.8 1116.9 L1024.1 1117.8 L1028.3 1145.3 L1021.6 1151.9 L1030.0 1153.6"/>
<path d="M1013.3 1037.0 C1017.7 1044.2 1020.0 1042.0 1026.6 1058.7 C1033.3 1075.3 1030.1 1069.2 1033.3 1087.0 C1036.5 1104.7 1035.3 1103.6 1036.3 1112.0"/>
<path d="M1030.0 1153.6 C1032.7 1152.5 1033.8 1153.0 1038.3 1150.3 C1042.7 1147.5 1039.4 1156.9 1043.3 1145.3 C1047.2 1133.6 1046.6 1126.7 1049.9 1115.3 C1053.3 1103.9 1050.5 1111.1 1053.3 1111.1 C1056.0 1111.1 1058.3 1106.7 1058.3 1115.3 C1058.3 1123.9 1056.0 1124.7 1053.3 1136.9 C1050.5 1149.1 1053.3 1145.3 1049.9 1151.9 C1046.6 1158.6 1048.8 1155.5 1043.3 1156.9 C1037.7 1158.3 1037.7 1157.2 1033.3 1156.1 C1028.8 1155.0 1031.1 1154.4 1030.0 1153.6"/>
<path d="M1030.0 1153.6 L1031.6 1161.1 L1048.3 1168.6"/>
<path d="M1161.5 1166.9 L1159.9 1180.2"/>
<path d="M1168.2 1166.9 L1165.2 1183.6"/>
<path d="M1088.2 1052.0 C1088.8 1055.9 1087.1 1057.8 1089.9 1063.6 C1092.7 1069.5 1092.4 1067.8 1096.6 1069.5 C1100.7 1071.1 1100.2 1072.8 1102.4 1068.6 C1104.6 1064.5 1103.0 1060.9 1103.2 1057.0"/>
<path d="M1234.0 1208.0 L1235.2 1193.0 L1239.0 1188.0 L1259.0 1174.2 L1287.8 1166.8 L1292.8 1188.0 L1334.0 1179.2 L1334.0 1168.0 L1341.5 1169.2 L1370.2 1164.2 L1459.0 1124.2 L1477.8 1118.0"/>
<path d="M1207.0 370.0 L1233.0 390.0"/>
<path d="M1213.7 505.0 L1233.0 495.0"/>
<path d="M1213.7 520.0 L1233.0 508.8"/>
<path d="M1213.7 527.5 L1233.0 518.8"/>
<path d="M586.0 363.5 L626.5 380.0"/>
<path d="M801.4 975.9 L802.7 974.6 L827.8 974.6 L832.2 978.4 L832.8 986.5 L830.9 991.5 L835.9 990.9 L839.1 995.3 L839.1 999.1"/>
<path d="M801.4 975.9 L798.9 999.1 L795.2 1004.1 L787.6 1037.9 L790.2 1042.9 L805.2 1036.7 L805.2 1030.4"/>
<path d="M805.2 1030.4 C806.9 1028.7 804.8 1028.1 810.2 1025.4 C815.7 1022.7 814.0 1026.9 821.5 1022.3 C829.0 1017.7 826.9 1019.3 832.8 1011.6 C838.6 1003.9 837.0 1003.2 839.1 999.1"/>
<ellipse cx="817.7" cy="986.5" rx="11.9" ry="9.0" transform="rotate(-20.0 817.7 986.5)"/>
<path d="M803.9 977.7 L802.7 992.8"/>
<path d="M798.9 1000.3 L827.8 992.8 L830.9 991.5"/>
<path d="M775.1 1012.9 L798.9 999.1"/>
<ellipse cx="781.4" cy="1025.4" rx="6.3" ry="8.2" transform="rotate(10.0 781.4 1025.4)"/>
<path d="M772.1 1012.9 L774.1 1012.9 L774.5 1050.5 L772.6 1050.5Z" fill="#000"/>
<path d="M789.2 1020.4 L790.7 1020.4 L790.9 1030.4 L789.4 1030.4Z" fill="#000"/>
<path d="M776.4 1049.2 L805.2 1045.5 L805.2 1036.7"/>
<path d="M776.4 1054.2 L782.6 1049.8 L805.2 1046.1"/>
<path d="M810.2 1026.6 C811.9 1028.7 810.2 1030.0 815.2 1032.9 C820.3 1035.8 818.6 1036.3 825.3 1035.4 C832.0 1034.6 830.7 1035.4 835.3 1030.4 C839.9 1025.4 838.6 1026.6 839.1 1020.4 C839.5 1014.1 837.4 1014.5 836.6 1011.6"/>
<path d="M812.7 1029.2 C814.4 1031.0 813.1 1032.1 817.7 1034.8 C822.3 1037.5 820.3 1037.9 826.5 1037.3 C832.8 1036.7 831.5 1037.7 836.6 1032.9 C841.6 1028.1 840.3 1029.6 841.6 1022.9 C842.8 1016.2 840.7 1016.2 840.3 1012.9"/>
<path d="M809.0 1027.9 C809.4 1030.4 807.3 1030.8 810.2 1035.4 C813.1 1040.0 814.4 1037.9 817.7 1041.7 C821.1 1045.5 819.4 1045.0 820.3 1046.7"/>
<path d="M820.3 1046.7 C825.3 1046.5 826.9 1048.6 835.3 1046.1 C843.7 1043.6 840.7 1043.6 845.3 1039.2 C849.9 1034.8 847.8 1036.7 849.1 1032.9 C850.3 1029.2 849.1 1029.6 849.1 1027.9"/>
<path d="M849.1 1027.9 C852.4 1026.6 853.3 1027.5 859.1 1024.1 C865.0 1020.8 863.3 1022.5 866.6 1017.9 C870.0 1013.3 868.3 1012.9 869.2 1010.3"/>
<path d="M869.2 1010.3 L871.0 987.8 L870.4 970.2"/>
<path d="M843.4 970.2 C844.1 973.6 845.1 971.1 845.3 980.3 C845.5 989.4 845.3 987.8 844.1 997.8 C842.8 1007.8 841.6 1002.8 841.6 1010.3 C841.6 1017.9 840.3 1017.5 844.1 1020.4 C847.8 1023.3 847.8 1021.6 852.9 1019.1 C857.9 1016.6 856.2 1017.9 859.1 1012.9 C862.0 1007.8 860.6 1014.1 861.6 1004.1 C862.7 994.0 862.0 989.9 862.3 982.8"/>
<path d="M862.3 982.8 L846.0 980.3"/>
</g>
<line x1="1144" y1="118" x2="1144" y2="323" stroke="#000" stroke-width="3.6"/>
<polygon points="1146.4,81 1146.4,109 1141.6,109 1142.2,90.6 1137,89.8 1134.6,87.8 1139,86 1143,81" fill="#000"/>
<rect x="1436" y="169" width="2" height="2" fill="#000"/>
</svg></body></html>
